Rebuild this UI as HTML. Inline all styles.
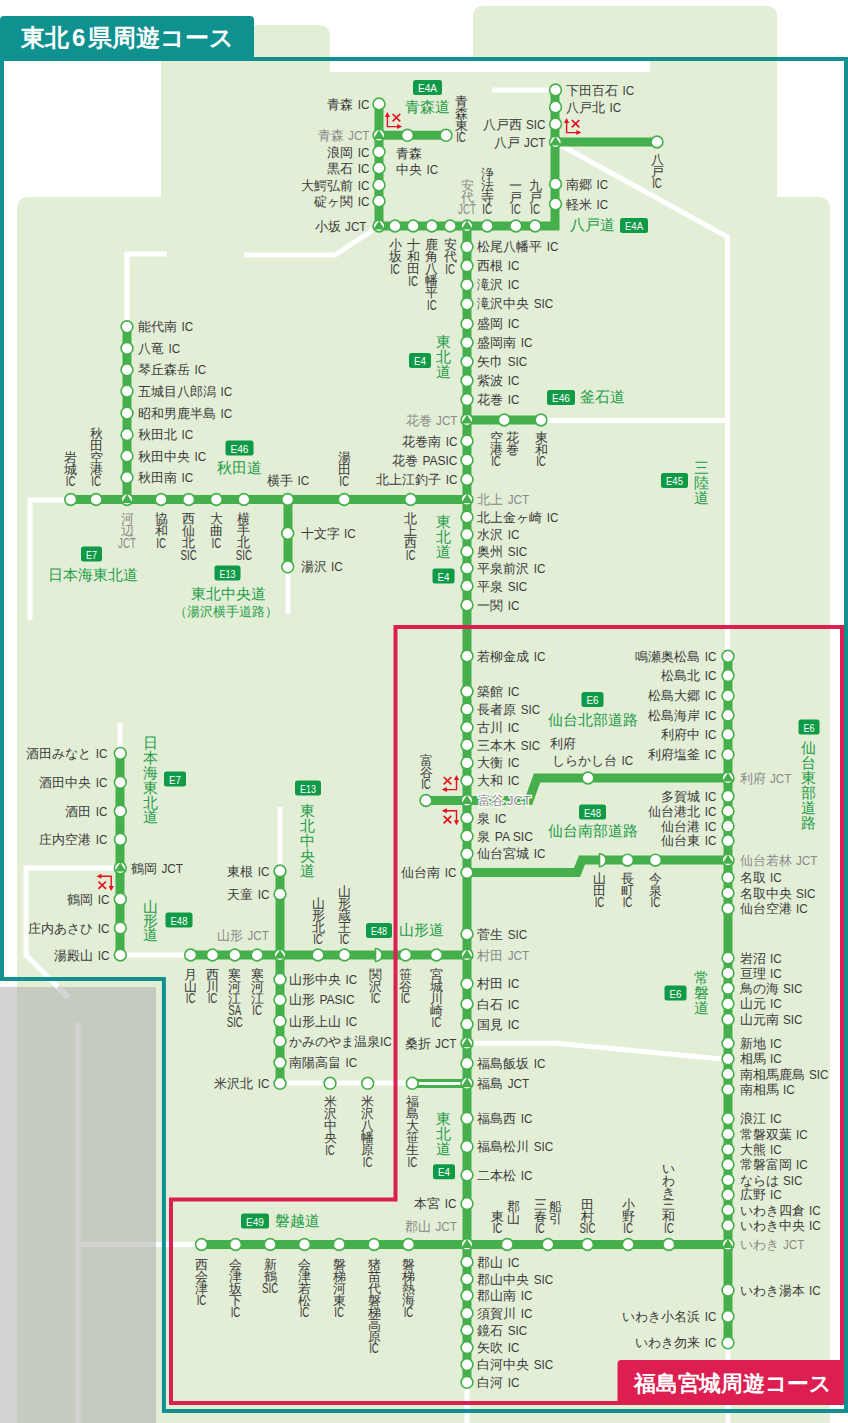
<!DOCTYPE html>
<html><head><meta charset="utf-8"><title>東北6県周遊コース</title>
<style>
html,body{margin:0;padding:0;background:#fff;}
body{width:848px;height:1423px;overflow:hidden;}
svg{display:block;font-family:"Liberation Sans",sans-serif;}
</style></head><body>
<svg width="848" height="1423" viewBox="0 0 848 1423">
<path fill="#e3eed6" d="M161 72 V37 Q161 25 173 25 H318 Q330 25 330 37 V72 Z"/>
<rect x="473" y="6" width="304" height="60" rx="9" fill="#e3eed6"/>
<rect x="161" y="61" width="616" height="160" fill="#e3eed6"/>
<path fill="#e3eed6" d="M17 1423 V209 Q17 197 29 197 H818 Q830 197 830 209 V1423 Z"/>
<rect x="330" y="61" width="320" height="11" fill="#fff"/>
<rect x="0" y="987" width="17" height="436" fill="#d3d3d3"/>
<rect x="17" y="987" width="139" height="436" fill="#c6cbc0"/>
<path d="M492 90 H555" fill="none" stroke="#fff" stroke-width="5" stroke-linejoin="miter"/>
<path d="M555 142 L727.5 237 V656" fill="none" stroke="#fff" stroke-width="5" stroke-linejoin="miter"/>
<path d="M541 420.5 H728" fill="none" stroke="#fff" stroke-width="5" stroke-linejoin="miter"/>
<path d="M379 226 L335 255 H244" fill="none" stroke="#fff" stroke-width="5" stroke-linejoin="miter"/>
<path d="M167 254 H127 V327" fill="none" stroke="#fff" stroke-width="5" stroke-linejoin="miter"/>
<path d="M30 620 V500 H71" fill="none" stroke="#fff" stroke-width="5" stroke-linejoin="miter"/>
<path d="M288 567 V614" fill="none" stroke="#fff" stroke-width="5" stroke-linejoin="miter"/>
<path d="M280 807 V871" fill="none" stroke="#fff" stroke-width="5" stroke-linejoin="miter"/>
<path d="M120 723 V753" fill="none" stroke="#fff" stroke-width="5" stroke-linejoin="miter"/>
<path d="M120 868 H26 V955 L68 997" fill="none" stroke="#fff" stroke-width="5" stroke-linejoin="miter"/>
<path d="M280 1083 H412" fill="none" stroke="#fff" stroke-width="5" stroke-linejoin="miter"/>
<path d="M120 955 H190" fill="none" stroke="#fff" stroke-width="5" stroke-linejoin="miter"/>
<path d="M467 1043.3 H556 L728 1059.5" fill="none" stroke="#fff" stroke-width="5" stroke-linejoin="miter"/>
<path d="M467 1382 V1423" fill="none" stroke="#fff" stroke-width="5" stroke-linejoin="miter"/>
<path d="M728 1343 V1423" fill="none" stroke="#fff" stroke-width="5" stroke-linejoin="miter"/>
<path d="M156 1244.5 H201" fill="none" stroke="#fff" stroke-width="5" stroke-linejoin="miter"/>
<path d="M-5 1083 H0" fill="none" stroke="#fff" stroke-width="5" stroke-linejoin="miter"/>
<path d="M78 1023 V1423" stroke="#d3d3d3" stroke-width="5" fill="none"/>
<path d="M78 1244.5 H156" stroke="#d3d3d3" stroke-width="5" fill="none"/>
<path d="M68 997 L58 987" stroke="#d3d3d3" stroke-width="5" fill="none"/>
<path d="M379 104 V226" fill="none" stroke="#45b04b" stroke-width="9" stroke-linejoin="miter"/>
<path d="M379 135.3 H446" fill="none" stroke="#45b04b" stroke-width="9" stroke-linejoin="miter"/>
<path d="M379 226 H555 V90" fill="none" stroke="#45b04b" stroke-width="9" stroke-linejoin="miter"/>
<path d="M555 142 H657" fill="none" stroke="#45b04b" stroke-width="9" stroke-linejoin="miter"/>
<path d="M467 226 V1382" fill="none" stroke="#45b04b" stroke-width="9" stroke-linejoin="miter"/>
<path d="M467 420 H541" fill="none" stroke="#45b04b" stroke-width="9" stroke-linejoin="miter"/>
<path d="M71 499.5 H467" fill="none" stroke="#45b04b" stroke-width="9" stroke-linejoin="miter"/>
<path d="M127 327 V499.5" fill="none" stroke="#45b04b" stroke-width="9" stroke-linejoin="miter"/>
<path d="M288 499.5 V567" fill="none" stroke="#45b04b" stroke-width="9" stroke-linejoin="miter"/>
<path d="M426 800.5 H529 L537 778 H728" fill="none" stroke="#45b04b" stroke-width="9" stroke-linejoin="miter"/>
<path d="M728 656 V1343" fill="none" stroke="#45b04b" stroke-width="9" stroke-linejoin="miter"/>
<path d="M467 872.5 H577 L582 860 H728" fill="none" stroke="#45b04b" stroke-width="9" stroke-linejoin="miter"/>
<path d="M190 955 H467" fill="none" stroke="#45b04b" stroke-width="9" stroke-linejoin="miter"/>
<path d="M280 871 V1083" fill="none" stroke="#45b04b" stroke-width="9" stroke-linejoin="miter"/>
<path d="M120 753 V955" fill="none" stroke="#45b04b" stroke-width="9" stroke-linejoin="miter"/>
<path d="M201 1244.5 H728" fill="none" stroke="#45b04b" stroke-width="9" stroke-linejoin="miter"/>
<path d="M412 1083.5 H467" stroke="#45b04b" stroke-width="9" fill="none"/>
<path d="M418 1083.5 H461" stroke="#fff" stroke-width="3" fill="none"/>
<circle cx="379" cy="104" r="5.9" fill="#fff" stroke="#45b04b" stroke-width="1.6"/>
<circle cx="379" cy="151.8" r="5.9" fill="#fff" stroke="#45b04b" stroke-width="1.6"/>
<circle cx="379" cy="168" r="5.9" fill="#fff" stroke="#45b04b" stroke-width="1.6"/>
<circle cx="379" cy="185" r="5.9" fill="#fff" stroke="#45b04b" stroke-width="1.6"/>
<circle cx="379" cy="201" r="5.9" fill="#fff" stroke="#45b04b" stroke-width="1.6"/>
<circle cx="379" cy="135.3" r="5.9" fill="#fff"/>
<path d="M379 129.70000000000002 L384.7 138.9 H373.3 Z" fill="#45b04b"/>
<circle cx="379" cy="135.3" r="5.9" fill="none" stroke="#45b04b" stroke-width="1.6"/>
<circle cx="407.5" cy="135.3" r="5.9" fill="#fff" stroke="#45b04b" stroke-width="1.6"/>
<circle cx="446" cy="135.3" r="5.9" fill="#fff" stroke="#45b04b" stroke-width="1.6"/>
<circle cx="379" cy="226" r="5.9" fill="#fff"/>
<path d="M379 220.4 L384.7 229.6 H373.3 Z" fill="#45b04b"/>
<circle cx="379" cy="226" r="5.9" fill="none" stroke="#45b04b" stroke-width="1.6"/>
<text x="327.30" y="104" font-size="13" fill="#3a3a3a" dominant-baseline="central" font-weight="normal" >青森</text>
<text x="357.80" y="104" font-size="13.52" fill="#3a3a3a" dominant-baseline="central" font-weight="normal" textLength="11.70" lengthAdjust="spacingAndGlyphs" >IC</text>
<text x="317.55" y="135.3" font-size="13" fill="#8a8a8a" dominant-baseline="central" font-weight="normal" >青森</text>
<text x="348.05" y="135.3" font-size="13.52" fill="#8a8a8a" dominant-baseline="central" font-weight="normal" textLength="21.45" lengthAdjust="spacingAndGlyphs" >JCT</text>
<text x="327.30" y="152" font-size="13" fill="#3a3a3a" dominant-baseline="central" font-weight="normal" >浪岡</text>
<text x="357.80" y="152" font-size="13.52" fill="#3a3a3a" dominant-baseline="central" font-weight="normal" textLength="11.70" lengthAdjust="spacingAndGlyphs" >IC</text>
<text x="327.30" y="168" font-size="13" fill="#3a3a3a" dominant-baseline="central" font-weight="normal" >黒石</text>
<text x="357.80" y="168" font-size="13.52" fill="#3a3a3a" dominant-baseline="central" font-weight="normal" textLength="11.70" lengthAdjust="spacingAndGlyphs" >IC</text>
<text x="301.30" y="185" font-size="13" fill="#3a3a3a" dominant-baseline="central" font-weight="normal" >大鰐弘前</text>
<text x="357.80" y="185" font-size="13.52" fill="#3a3a3a" dominant-baseline="central" font-weight="normal" textLength="11.70" lengthAdjust="spacingAndGlyphs" >IC</text>
<text x="314.30" y="201" font-size="13" fill="#3a3a3a" dominant-baseline="central" font-weight="normal" >碇ヶ関</text>
<text x="357.80" y="201" font-size="13.52" fill="#3a3a3a" dominant-baseline="central" font-weight="normal" textLength="11.70" lengthAdjust="spacingAndGlyphs" >IC</text>
<text x="314.55" y="226" font-size="13" fill="#3a3a3a" dominant-baseline="central" font-weight="normal" >小坂</text>
<text x="345.05" y="226" font-size="13.52" fill="#3a3a3a" dominant-baseline="central" font-weight="normal" textLength="21.45" lengthAdjust="spacingAndGlyphs" >JCT</text>
<text x="396" y="153" font-size="13" fill="#3a3a3a" text-anchor="start" dominant-baseline="central" font-weight="normal" >青森</text>
<text x="396.00" y="169" font-size="13" fill="#3a3a3a" dominant-baseline="central" font-weight="normal" >中央</text>
<text x="426.50" y="169" font-size="13.52" fill="#3a3a3a" dominant-baseline="central" font-weight="normal" textLength="11.70" lengthAdjust="spacingAndGlyphs" >IC</text>
<text x="461" y="101.0" font-size="13" fill="#3a3a3a" text-anchor="middle" dominant-baseline="central">青</text>
<text x="461" y="113.0" font-size="13" fill="#3a3a3a" text-anchor="middle" dominant-baseline="central">森</text>
<text x="461" y="125.0" font-size="13" fill="#3a3a3a" text-anchor="middle" dominant-baseline="central">東</text>
<text x="461" y="137.0" font-size="14.3" fill="#3a3a3a" text-anchor="middle" dominant-baseline="central" textLength="9.72" lengthAdjust="spacingAndGlyphs">IC</text>
<rect x="413" y="80" width="29" height="15" rx="2.5" fill="#0f9a47"/>
<text x="427.5" y="88.0" font-size="11" fill="#fff" text-anchor="middle" dominant-baseline="central" textLength="19" lengthAdjust="spacingAndGlyphs">E4A</text>
<text x="405" y="107" font-size="14.5" fill="#1f9d49" text-anchor="start" dominant-baseline="central" font-weight="normal" >青森道</text>
<g transform="translate(387.4 126.6) scale(1 1)" fill="#e60f1e" stroke="#e60f1e"><path d="M0 -10 V0 H10.5" fill="none" stroke-width="1.4"/><path d="M0 -14.6 L2.6 -9.6 H-2.6 Z" stroke="none"/><path d="M14.7 0 L9.7 -2.5 V2.5 Z" stroke="none"/><path d="M5.2 -12.6 L12.8 -5.2 M12.8 -12.6 L5.2 -5.2" fill="none" stroke-width="1.7"/></g>
<circle cx="395" cy="226" r="5.9" fill="#fff" stroke="#45b04b" stroke-width="1.6"/>
<circle cx="413.2" cy="226" r="5.9" fill="#fff" stroke="#45b04b" stroke-width="1.6"/>
<circle cx="431.8" cy="226" r="5.9" fill="#fff" stroke="#45b04b" stroke-width="1.6"/>
<circle cx="450.2" cy="226" r="5.9" fill="#fff" stroke="#45b04b" stroke-width="1.6"/>
<circle cx="487.2" cy="226" r="5.9" fill="#fff" stroke="#45b04b" stroke-width="1.6"/>
<circle cx="515.8" cy="226" r="5.9" fill="#fff" stroke="#45b04b" stroke-width="1.6"/>
<circle cx="535.1" cy="226" r="5.9" fill="#fff" stroke="#45b04b" stroke-width="1.6"/>
<circle cx="467" cy="226" r="5.9" fill="#fff"/>
<path d="M467 220.4 L472.7 229.6 H461.3 Z" fill="#45b04b"/>
<circle cx="467" cy="226" r="5.9" fill="none" stroke="#45b04b" stroke-width="1.6"/>
<text x="395" y="244.5" font-size="13" fill="#3a3a3a" text-anchor="middle" dominant-baseline="central">小</text>
<text x="395" y="256.5" font-size="13" fill="#3a3a3a" text-anchor="middle" dominant-baseline="central">坂</text>
<text x="395" y="268.5" font-size="14.3" fill="#3a3a3a" text-anchor="middle" dominant-baseline="central" textLength="9.72" lengthAdjust="spacingAndGlyphs">IC</text>
<text x="413.2" y="244.5" font-size="13" fill="#3a3a3a" text-anchor="middle" dominant-baseline="central">十</text>
<text x="413.2" y="256.5" font-size="13" fill="#3a3a3a" text-anchor="middle" dominant-baseline="central">和</text>
<text x="413.2" y="268.5" font-size="13" fill="#3a3a3a" text-anchor="middle" dominant-baseline="central">田</text>
<text x="413.2" y="280.5" font-size="14.3" fill="#3a3a3a" text-anchor="middle" dominant-baseline="central" textLength="9.72" lengthAdjust="spacingAndGlyphs">IC</text>
<text x="431.8" y="244.5" font-size="13" fill="#3a3a3a" text-anchor="middle" dominant-baseline="central">鹿</text>
<text x="431.8" y="256.5" font-size="13" fill="#3a3a3a" text-anchor="middle" dominant-baseline="central">角</text>
<text x="431.8" y="268.5" font-size="13" fill="#3a3a3a" text-anchor="middle" dominant-baseline="central">八</text>
<text x="431.8" y="280.5" font-size="13" fill="#3a3a3a" text-anchor="middle" dominant-baseline="central">幡</text>
<text x="431.8" y="292.5" font-size="13" fill="#3a3a3a" text-anchor="middle" dominant-baseline="central">平</text>
<text x="431.8" y="304.5" font-size="14.3" fill="#3a3a3a" text-anchor="middle" dominant-baseline="central" textLength="9.72" lengthAdjust="spacingAndGlyphs">IC</text>
<text x="450.2" y="244.5" font-size="13" fill="#3a3a3a" text-anchor="middle" dominant-baseline="central">安</text>
<text x="450.2" y="256.5" font-size="13" fill="#3a3a3a" text-anchor="middle" dominant-baseline="central">代</text>
<text x="450.2" y="268.5" font-size="14.3" fill="#3a3a3a" text-anchor="middle" dominant-baseline="central" textLength="9.72" lengthAdjust="spacingAndGlyphs">IC</text>
<text x="467" y="185.0" font-size="13" fill="#8a8a8a" text-anchor="middle" dominant-baseline="central">安</text>
<text x="467" y="197.0" font-size="13" fill="#8a8a8a" text-anchor="middle" dominant-baseline="central">代</text>
<text x="467" y="209.0" font-size="14.3" fill="#8a8a8a" text-anchor="middle" dominant-baseline="central" textLength="17.82" lengthAdjust="spacingAndGlyphs">JCT</text>
<text x="487.2" y="173.0" font-size="13" fill="#3a3a3a" text-anchor="middle" dominant-baseline="central">浄</text>
<text x="487.2" y="185.0" font-size="13" fill="#3a3a3a" text-anchor="middle" dominant-baseline="central">法</text>
<text x="487.2" y="197.0" font-size="13" fill="#3a3a3a" text-anchor="middle" dominant-baseline="central">寺</text>
<text x="487.2" y="209.0" font-size="14.3" fill="#3a3a3a" text-anchor="middle" dominant-baseline="central" textLength="9.72" lengthAdjust="spacingAndGlyphs">IC</text>
<text x="515.8" y="185.0" font-size="13" fill="#3a3a3a" text-anchor="middle" dominant-baseline="central">一</text>
<text x="515.8" y="197.0" font-size="13" fill="#3a3a3a" text-anchor="middle" dominant-baseline="central">戸</text>
<text x="515.8" y="209.0" font-size="14.3" fill="#3a3a3a" text-anchor="middle" dominant-baseline="central" textLength="9.72" lengthAdjust="spacingAndGlyphs">IC</text>
<text x="535.1" y="185.0" font-size="13" fill="#3a3a3a" text-anchor="middle" dominant-baseline="central">九</text>
<text x="535.1" y="197.0" font-size="13" fill="#3a3a3a" text-anchor="middle" dominant-baseline="central">戸</text>
<text x="535.1" y="209.0" font-size="14.3" fill="#3a3a3a" text-anchor="middle" dominant-baseline="central" textLength="9.72" lengthAdjust="spacingAndGlyphs">IC</text>
<circle cx="555.5" cy="90" r="5.9" fill="#fff" stroke="#45b04b" stroke-width="1.6"/>
<circle cx="555.5" cy="107" r="5.9" fill="#fff" stroke="#45b04b" stroke-width="1.6"/>
<circle cx="555.5" cy="124" r="5.9" fill="#fff" stroke="#45b04b" stroke-width="1.6"/>
<circle cx="555.5" cy="184" r="5.9" fill="#fff" stroke="#45b04b" stroke-width="1.6"/>
<circle cx="555.5" cy="204" r="5.9" fill="#fff" stroke="#45b04b" stroke-width="1.6"/>
<circle cx="555.5" cy="142" r="5.9" fill="#fff"/>
<path d="M555.5 136.4 L561.2 145.6 H549.8 Z" fill="#45b04b"/>
<circle cx="555.5" cy="142" r="5.9" fill="none" stroke="#45b04b" stroke-width="1.6"/>
<circle cx="657" cy="142" r="5.9" fill="#fff" stroke="#45b04b" stroke-width="1.6"/>
<text x="566.00" y="90" font-size="13" fill="#3a3a3a" dominant-baseline="central" font-weight="normal" >下田百石</text>
<text x="622.50" y="90" font-size="13.52" fill="#3a3a3a" dominant-baseline="central" font-weight="normal" textLength="11.70" lengthAdjust="spacingAndGlyphs" >IC</text>
<text x="566.00" y="107" font-size="13" fill="#3a3a3a" dominant-baseline="central" font-weight="normal" >八戸北</text>
<text x="609.50" y="107" font-size="13.52" fill="#3a3a3a" dominant-baseline="central" font-weight="normal" textLength="11.70" lengthAdjust="spacingAndGlyphs" >IC</text>
<text x="482.50" y="124" font-size="13" fill="#3a3a3a" dominant-baseline="central" font-weight="normal" >八戸西</text>
<text x="526.00" y="124" font-size="13.52" fill="#3a3a3a" dominant-baseline="central" font-weight="normal" textLength="19.50" lengthAdjust="spacingAndGlyphs" >SIC</text>
<text x="493.55" y="142" font-size="13" fill="#3a3a3a" dominant-baseline="central" font-weight="normal" >八戸</text>
<text x="524.05" y="142" font-size="13.52" fill="#3a3a3a" dominant-baseline="central" font-weight="normal" textLength="21.45" lengthAdjust="spacingAndGlyphs" >JCT</text>
<text x="566.00" y="184" font-size="13" fill="#3a3a3a" dominant-baseline="central" font-weight="normal" >南郷</text>
<text x="596.50" y="184" font-size="13.52" fill="#3a3a3a" dominant-baseline="central" font-weight="normal" textLength="11.70" lengthAdjust="spacingAndGlyphs" >IC</text>
<text x="566.00" y="204" font-size="13" fill="#3a3a3a" dominant-baseline="central" font-weight="normal" >軽米</text>
<text x="596.50" y="204" font-size="13.52" fill="#3a3a3a" dominant-baseline="central" font-weight="normal" textLength="11.70" lengthAdjust="spacingAndGlyphs" >IC</text>
<text x="657" y="159.0" font-size="13" fill="#3a3a3a" text-anchor="middle" dominant-baseline="central">八</text>
<text x="657" y="171.0" font-size="13" fill="#3a3a3a" text-anchor="middle" dominant-baseline="central">戸</text>
<text x="657" y="183.0" font-size="14.3" fill="#3a3a3a" text-anchor="middle" dominant-baseline="central" textLength="9.72" lengthAdjust="spacingAndGlyphs">IC</text>
<text x="570" y="225" font-size="14.5" fill="#1f9d49" text-anchor="start" dominant-baseline="central" font-weight="normal" >八戸道</text>
<rect x="620" y="218" width="28" height="15" rx="2.5" fill="#0f9a47"/>
<text x="634.0" y="226.0" font-size="11" fill="#fff" text-anchor="middle" dominant-baseline="central" textLength="18" lengthAdjust="spacingAndGlyphs">E4A</text>
<g transform="translate(566.6 132.6) scale(1 1)" fill="#e60f1e" stroke="#e60f1e"><path d="M0 -10 V0 H10.5" fill="none" stroke-width="1.4"/><path d="M0 -14.6 L2.6 -9.6 H-2.6 Z" stroke="none"/><path d="M14.7 0 L9.7 -2.5 V2.5 Z" stroke="none"/><path d="M5.2 -12.6 L12.8 -5.2 M12.8 -12.6 L5.2 -5.2" fill="none" stroke-width="1.7"/></g>
<circle cx="467" cy="246.8" r="5.9" fill="#fff" stroke="#45b04b" stroke-width="1.6"/>
<text x="477.20" y="246.8" font-size="13" fill="#3a3a3a" dominant-baseline="central" font-weight="normal" >松尾八幡平</text>
<text x="546.70" y="246.8" font-size="13.52" fill="#3a3a3a" dominant-baseline="central" font-weight="normal" textLength="11.70" lengthAdjust="spacingAndGlyphs" >IC</text>
<circle cx="467" cy="265.8" r="5.9" fill="#fff" stroke="#45b04b" stroke-width="1.6"/>
<text x="477.20" y="265.8" font-size="13" fill="#3a3a3a" dominant-baseline="central" font-weight="normal" >西根</text>
<text x="507.70" y="265.8" font-size="13.52" fill="#3a3a3a" dominant-baseline="central" font-weight="normal" textLength="11.70" lengthAdjust="spacingAndGlyphs" >IC</text>
<circle cx="467" cy="284.8" r="5.9" fill="#fff" stroke="#45b04b" stroke-width="1.6"/>
<text x="477.20" y="284.8" font-size="13" fill="#3a3a3a" dominant-baseline="central" font-weight="normal" >滝沢</text>
<text x="507.70" y="284.8" font-size="13.52" fill="#3a3a3a" dominant-baseline="central" font-weight="normal" textLength="11.70" lengthAdjust="spacingAndGlyphs" >IC</text>
<circle cx="467" cy="303.8" r="5.9" fill="#fff" stroke="#45b04b" stroke-width="1.6"/>
<text x="477.20" y="303.8" font-size="13" fill="#3a3a3a" dominant-baseline="central" font-weight="normal" >滝沢中央</text>
<text x="533.70" y="303.8" font-size="13.52" fill="#3a3a3a" dominant-baseline="central" font-weight="normal" textLength="19.50" lengthAdjust="spacingAndGlyphs" >SIC</text>
<circle cx="467" cy="323.8" r="5.9" fill="#fff" stroke="#45b04b" stroke-width="1.6"/>
<text x="477.20" y="323.8" font-size="13" fill="#3a3a3a" dominant-baseline="central" font-weight="normal" >盛岡</text>
<text x="507.70" y="323.8" font-size="13.52" fill="#3a3a3a" dominant-baseline="central" font-weight="normal" textLength="11.70" lengthAdjust="spacingAndGlyphs" >IC</text>
<circle cx="467" cy="342.6" r="5.9" fill="#fff" stroke="#45b04b" stroke-width="1.6"/>
<text x="477.20" y="342.6" font-size="13" fill="#3a3a3a" dominant-baseline="central" font-weight="normal" >盛岡南</text>
<text x="520.70" y="342.6" font-size="13.52" fill="#3a3a3a" dominant-baseline="central" font-weight="normal" textLength="11.70" lengthAdjust="spacingAndGlyphs" >IC</text>
<circle cx="467" cy="361.6" r="5.9" fill="#fff" stroke="#45b04b" stroke-width="1.6"/>
<text x="477.20" y="361.6" font-size="13" fill="#3a3a3a" dominant-baseline="central" font-weight="normal" >矢巾</text>
<text x="507.70" y="361.6" font-size="13.52" fill="#3a3a3a" dominant-baseline="central" font-weight="normal" textLength="19.50" lengthAdjust="spacingAndGlyphs" >SIC</text>
<circle cx="467" cy="380.6" r="5.9" fill="#fff" stroke="#45b04b" stroke-width="1.6"/>
<text x="477.20" y="380.6" font-size="13" fill="#3a3a3a" dominant-baseline="central" font-weight="normal" >紫波</text>
<text x="507.70" y="380.6" font-size="13.52" fill="#3a3a3a" dominant-baseline="central" font-weight="normal" textLength="11.70" lengthAdjust="spacingAndGlyphs" >IC</text>
<circle cx="467" cy="399.6" r="5.9" fill="#fff" stroke="#45b04b" stroke-width="1.6"/>
<text x="477.20" y="399.6" font-size="13" fill="#3a3a3a" dominant-baseline="central" font-weight="normal" >花巻</text>
<text x="507.70" y="399.6" font-size="13.52" fill="#3a3a3a" dominant-baseline="central" font-weight="normal" textLength="11.70" lengthAdjust="spacingAndGlyphs" >IC</text>
<circle cx="467" cy="420" r="5.9" fill="#fff"/>
<path d="M467 414.4 L472.7 423.6 H461.3 Z" fill="#45b04b"/>
<circle cx="467" cy="420" r="5.9" fill="none" stroke="#45b04b" stroke-width="1.6"/>
<text x="405.55" y="420" font-size="13" fill="#8a8a8a" dominant-baseline="central" font-weight="normal" >花巻</text>
<text x="436.05" y="420" font-size="13.52" fill="#8a8a8a" dominant-baseline="central" font-weight="normal" textLength="21.45" lengthAdjust="spacingAndGlyphs" >JCT</text>
<rect x="409" y="353" width="22" height="15" rx="2.5" fill="#0f9a47"/>
<text x="420.0" y="361.0" font-size="11" fill="#fff" text-anchor="middle" dominant-baseline="central" textLength="12" lengthAdjust="spacingAndGlyphs">E4</text>
<text x="443" y="341.5" font-size="14.5" fill="#1f9d49" text-anchor="middle" dominant-baseline="central">東</text>
<text x="443" y="356.5" font-size="14.5" fill="#1f9d49" text-anchor="middle" dominant-baseline="central">北</text>
<text x="443" y="371.5" font-size="14.5" fill="#1f9d49" text-anchor="middle" dominant-baseline="central">道</text>
<circle cx="504.2" cy="420" r="5.9" fill="#fff" stroke="#45b04b" stroke-width="1.6"/>
<circle cx="541" cy="420" r="5.9" fill="#fff" stroke="#45b04b" stroke-width="1.6"/>
<text x="512.5" y="437.0" font-size="13" fill="#3a3a3a" text-anchor="middle" dominant-baseline="central">花</text>
<text x="512.5" y="449.0" font-size="13" fill="#3a3a3a" text-anchor="middle" dominant-baseline="central">巻</text>
<text x="496" y="437.0" font-size="13" fill="#3a3a3a" text-anchor="middle" dominant-baseline="central">空</text>
<text x="496" y="449.0" font-size="13" fill="#3a3a3a" text-anchor="middle" dominant-baseline="central">港</text>
<text x="496" y="461.0" font-size="14.3" fill="#3a3a3a" text-anchor="middle" dominant-baseline="central" textLength="9.72" lengthAdjust="spacingAndGlyphs">IC</text>
<text x="541" y="437.0" font-size="13" fill="#3a3a3a" text-anchor="middle" dominant-baseline="central">東</text>
<text x="541" y="449.0" font-size="13" fill="#3a3a3a" text-anchor="middle" dominant-baseline="central">和</text>
<text x="541" y="461.0" font-size="14.3" fill="#3a3a3a" text-anchor="middle" dominant-baseline="central" textLength="9.72" lengthAdjust="spacingAndGlyphs">IC</text>
<rect x="661" y="473" width="27" height="15" rx="2.5" fill="#0f9a47"/>
<text x="674.5" y="481.0" font-size="11" fill="#fff" text-anchor="middle" dominant-baseline="central" textLength="17" lengthAdjust="spacingAndGlyphs">E45</text>
<text x="701.5" y="467.5" font-size="14.5" fill="#1f9d49" text-anchor="middle" dominant-baseline="central">三</text>
<text x="701.5" y="482.5" font-size="14.5" fill="#1f9d49" text-anchor="middle" dominant-baseline="central">陸</text>
<text x="701.5" y="497.5" font-size="14.5" fill="#1f9d49" text-anchor="middle" dominant-baseline="central">道</text>
<rect x="547" y="390" width="28" height="15" rx="2.5" fill="#0f9a47"/>
<text x="561.0" y="398.0" font-size="11" fill="#fff" text-anchor="middle" dominant-baseline="central" textLength="18" lengthAdjust="spacingAndGlyphs">E46</text>
<text x="580" y="397" font-size="14.5" fill="#1f9d49" text-anchor="start" dominant-baseline="central" font-weight="normal" >釜石道</text>
<circle cx="467" cy="441" r="5.9" fill="#fff" stroke="#45b04b" stroke-width="1.6"/>
<text x="402.30" y="441" font-size="13" fill="#3a3a3a" dominant-baseline="central" font-weight="normal" >花巻南</text>
<text x="445.80" y="441" font-size="13.52" fill="#3a3a3a" dominant-baseline="central" font-weight="normal" textLength="11.70" lengthAdjust="spacingAndGlyphs" >IC</text>
<circle cx="467" cy="460.2" r="5.9" fill="#fff" stroke="#45b04b" stroke-width="1.6"/>
<text x="391.89" y="460.2" font-size="13" fill="#3a3a3a" dominant-baseline="central" font-weight="normal" >花巻</text>
<text x="422.39" y="460.2" font-size="13.52" fill="#3a3a3a" dominant-baseline="central" font-weight="normal" textLength="35.11" lengthAdjust="spacingAndGlyphs" >PASIC</text>
<circle cx="467" cy="479.4" r="5.9" fill="#fff" stroke="#45b04b" stroke-width="1.6"/>
<text x="376.30" y="479.4" font-size="13" fill="#3a3a3a" dominant-baseline="central" font-weight="normal" >北上江釣子</text>
<text x="445.80" y="479.4" font-size="13.52" fill="#3a3a3a" dominant-baseline="central" font-weight="normal" textLength="11.70" lengthAdjust="spacingAndGlyphs" >IC</text>
<circle cx="467" cy="499.5" r="5.9" fill="#fff"/>
<path d="M467 493.9 L472.7 503.1 H461.3 Z" fill="#45b04b"/>
<circle cx="467" cy="499.5" r="5.9" fill="none" stroke="#45b04b" stroke-width="1.6"/>
<text x="477.20" y="499.5" font-size="13" fill="#8a8a8a" dominant-baseline="central" font-weight="normal" >北上</text>
<text x="507.70" y="499.5" font-size="13.52" fill="#8a8a8a" dominant-baseline="central" font-weight="normal" textLength="21.45" lengthAdjust="spacingAndGlyphs" >JCT</text>
<circle cx="467" cy="517" r="5.9" fill="#fff" stroke="#45b04b" stroke-width="1.6"/>
<text x="477.20" y="517" font-size="13" fill="#3a3a3a" dominant-baseline="central" font-weight="normal" >北上金ヶ崎</text>
<text x="546.70" y="517" font-size="13.52" fill="#3a3a3a" dominant-baseline="central" font-weight="normal" textLength="11.70" lengthAdjust="spacingAndGlyphs" >IC</text>
<circle cx="467" cy="534.4" r="5.9" fill="#fff" stroke="#45b04b" stroke-width="1.6"/>
<text x="477.20" y="534.4" font-size="13" fill="#3a3a3a" dominant-baseline="central" font-weight="normal" >水沢</text>
<text x="507.70" y="534.4" font-size="13.52" fill="#3a3a3a" dominant-baseline="central" font-weight="normal" textLength="11.70" lengthAdjust="spacingAndGlyphs" >IC</text>
<circle cx="467" cy="551.4" r="5.9" fill="#fff" stroke="#45b04b" stroke-width="1.6"/>
<text x="477.20" y="551.4" font-size="13" fill="#3a3a3a" dominant-baseline="central" font-weight="normal" >奥州</text>
<text x="507.70" y="551.4" font-size="13.52" fill="#3a3a3a" dominant-baseline="central" font-weight="normal" textLength="19.50" lengthAdjust="spacingAndGlyphs" >SIC</text>
<circle cx="467" cy="568.2" r="5.9" fill="#fff" stroke="#45b04b" stroke-width="1.6"/>
<text x="477.20" y="568.2" font-size="13" fill="#3a3a3a" dominant-baseline="central" font-weight="normal" >平泉前沢</text>
<text x="533.70" y="568.2" font-size="13.52" fill="#3a3a3a" dominant-baseline="central" font-weight="normal" textLength="11.70" lengthAdjust="spacingAndGlyphs" >IC</text>
<circle cx="467" cy="586" r="5.9" fill="#fff" stroke="#45b04b" stroke-width="1.6"/>
<text x="477.20" y="586" font-size="13" fill="#3a3a3a" dominant-baseline="central" font-weight="normal" >平泉</text>
<text x="507.70" y="586" font-size="13.52" fill="#3a3a3a" dominant-baseline="central" font-weight="normal" textLength="19.50" lengthAdjust="spacingAndGlyphs" >SIC</text>
<circle cx="467" cy="605" r="5.9" fill="#fff" stroke="#45b04b" stroke-width="1.6"/>
<text x="477.20" y="605" font-size="13" fill="#3a3a3a" dominant-baseline="central" font-weight="normal" >一関</text>
<text x="507.70" y="605" font-size="13.52" fill="#3a3a3a" dominant-baseline="central" font-weight="normal" textLength="11.70" lengthAdjust="spacingAndGlyphs" >IC</text>
<text x="443.5" y="521.5" font-size="14.5" fill="#1f9d49" text-anchor="middle" dominant-baseline="central">東</text>
<text x="443.5" y="536.5" font-size="14.5" fill="#1f9d49" text-anchor="middle" dominant-baseline="central">北</text>
<text x="443.5" y="551.5" font-size="14.5" fill="#1f9d49" text-anchor="middle" dominant-baseline="central">道</text>
<rect x="432.5" y="568.5" width="22" height="15" rx="2.5" fill="#0f9a47"/>
<text x="443.5" y="576.5" font-size="11" fill="#fff" text-anchor="middle" dominant-baseline="central" textLength="12" lengthAdjust="spacingAndGlyphs">E4</text>
<circle cx="127" cy="326.8" r="5.9" fill="#fff" stroke="#45b04b" stroke-width="1.6"/>
<text x="138.00" y="326.8" font-size="13" fill="#3a3a3a" dominant-baseline="central" font-weight="normal" >能代南</text>
<text x="181.50" y="326.8" font-size="13.52" fill="#3a3a3a" dominant-baseline="central" font-weight="normal" textLength="11.70" lengthAdjust="spacingAndGlyphs" >IC</text>
<circle cx="127" cy="348.3" r="5.9" fill="#fff" stroke="#45b04b" stroke-width="1.6"/>
<text x="138.00" y="348.3" font-size="13" fill="#3a3a3a" dominant-baseline="central" font-weight="normal" >八竜</text>
<text x="168.50" y="348.3" font-size="13.52" fill="#3a3a3a" dominant-baseline="central" font-weight="normal" textLength="11.70" lengthAdjust="spacingAndGlyphs" >IC</text>
<circle cx="127" cy="369.8" r="5.9" fill="#fff" stroke="#45b04b" stroke-width="1.6"/>
<text x="138.00" y="369.8" font-size="13" fill="#3a3a3a" dominant-baseline="central" font-weight="normal" >琴丘森岳</text>
<text x="194.50" y="369.8" font-size="13.52" fill="#3a3a3a" dominant-baseline="central" font-weight="normal" textLength="11.70" lengthAdjust="spacingAndGlyphs" >IC</text>
<circle cx="127" cy="391.2" r="5.9" fill="#fff" stroke="#45b04b" stroke-width="1.6"/>
<text x="138.00" y="391.2" font-size="13" fill="#3a3a3a" dominant-baseline="central" font-weight="normal" >五城目八郎潟</text>
<text x="220.50" y="391.2" font-size="13.52" fill="#3a3a3a" dominant-baseline="central" font-weight="normal" textLength="11.70" lengthAdjust="spacingAndGlyphs" >IC</text>
<circle cx="127" cy="413.2" r="5.9" fill="#fff" stroke="#45b04b" stroke-width="1.6"/>
<text x="138.00" y="413.2" font-size="13" fill="#3a3a3a" dominant-baseline="central" font-weight="normal" >昭和男鹿半島</text>
<text x="220.50" y="413.2" font-size="13.52" fill="#3a3a3a" dominant-baseline="central" font-weight="normal" textLength="11.70" lengthAdjust="spacingAndGlyphs" >IC</text>
<circle cx="127" cy="434.7" r="5.9" fill="#fff" stroke="#45b04b" stroke-width="1.6"/>
<text x="138.00" y="434.7" font-size="13" fill="#3a3a3a" dominant-baseline="central" font-weight="normal" >秋田北</text>
<text x="181.50" y="434.7" font-size="13.52" fill="#3a3a3a" dominant-baseline="central" font-weight="normal" textLength="11.70" lengthAdjust="spacingAndGlyphs" >IC</text>
<circle cx="127" cy="456" r="5.9" fill="#fff" stroke="#45b04b" stroke-width="1.6"/>
<text x="138.00" y="456" font-size="13" fill="#3a3a3a" dominant-baseline="central" font-weight="normal" >秋田中央</text>
<text x="194.50" y="456" font-size="13.52" fill="#3a3a3a" dominant-baseline="central" font-weight="normal" textLength="11.70" lengthAdjust="spacingAndGlyphs" >IC</text>
<circle cx="127" cy="477.5" r="5.9" fill="#fff" stroke="#45b04b" stroke-width="1.6"/>
<text x="138.00" y="477.5" font-size="13" fill="#3a3a3a" dominant-baseline="central" font-weight="normal" >秋田南</text>
<text x="181.50" y="477.5" font-size="13.52" fill="#3a3a3a" dominant-baseline="central" font-weight="normal" textLength="11.70" lengthAdjust="spacingAndGlyphs" >IC</text>
<circle cx="127" cy="499.5" r="5.9" fill="#fff"/>
<path d="M127 493.9 L132.7 503.1 H121.3 Z" fill="#45b04b"/>
<circle cx="127" cy="499.5" r="5.9" fill="none" stroke="#45b04b" stroke-width="1.6"/>
<rect x="225.5" y="440.5" width="28" height="15" rx="2.5" fill="#0f9a47"/>
<text x="239.5" y="448.5" font-size="11" fill="#fff" text-anchor="middle" dominant-baseline="central" textLength="18" lengthAdjust="spacingAndGlyphs">E46</text>
<text x="216.5" y="468" font-size="14.5" fill="#1f9d49" text-anchor="start" dominant-baseline="central" font-weight="normal" >秋田道</text>
<circle cx="70.7" cy="499.5" r="5.9" fill="#fff" stroke="#45b04b" stroke-width="1.6"/>
<circle cx="96.1" cy="499.5" r="5.9" fill="#fff" stroke="#45b04b" stroke-width="1.6"/>
<circle cx="161.1" cy="499.5" r="5.9" fill="#fff" stroke="#45b04b" stroke-width="1.6"/>
<circle cx="188.7" cy="499.5" r="5.9" fill="#fff" stroke="#45b04b" stroke-width="1.6"/>
<circle cx="216.3" cy="499.5" r="5.9" fill="#fff" stroke="#45b04b" stroke-width="1.6"/>
<circle cx="243.9" cy="499.5" r="5.9" fill="#fff" stroke="#45b04b" stroke-width="1.6"/>
<circle cx="287.7" cy="499.5" r="5.9" fill="#fff" stroke="#45b04b" stroke-width="1.6"/>
<circle cx="344.2" cy="499.5" r="5.9" fill="#fff" stroke="#45b04b" stroke-width="1.6"/>
<circle cx="410.6" cy="499.5" r="5.9" fill="#fff" stroke="#45b04b" stroke-width="1.6"/>
<circle cx="287.7" cy="533.3" r="5.9" fill="#fff" stroke="#45b04b" stroke-width="1.6"/>
<circle cx="287.7" cy="566.8" r="5.9" fill="#fff" stroke="#45b04b" stroke-width="1.6"/>
<text x="70.7" y="457.0" font-size="13" fill="#3a3a3a" text-anchor="middle" dominant-baseline="central">岩</text>
<text x="70.7" y="469.0" font-size="13" fill="#3a3a3a" text-anchor="middle" dominant-baseline="central">城</text>
<text x="70.7" y="481.0" font-size="14.3" fill="#3a3a3a" text-anchor="middle" dominant-baseline="central" textLength="9.72" lengthAdjust="spacingAndGlyphs">IC</text>
<text x="96.1" y="433.0" font-size="13" fill="#3a3a3a" text-anchor="middle" dominant-baseline="central">秋</text>
<text x="96.1" y="445.0" font-size="13" fill="#3a3a3a" text-anchor="middle" dominant-baseline="central">田</text>
<text x="96.1" y="457.0" font-size="13" fill="#3a3a3a" text-anchor="middle" dominant-baseline="central">空</text>
<text x="96.1" y="469.0" font-size="13" fill="#3a3a3a" text-anchor="middle" dominant-baseline="central">港</text>
<text x="96.1" y="481.0" font-size="14.3" fill="#3a3a3a" text-anchor="middle" dominant-baseline="central" textLength="9.72" lengthAdjust="spacingAndGlyphs">IC</text>
<text x="127" y="518.5" font-size="13" fill="#8a8a8a" text-anchor="middle" dominant-baseline="central">河</text>
<text x="127" y="530.5" font-size="13" fill="#8a8a8a" text-anchor="middle" dominant-baseline="central">辺</text>
<text x="127" y="542.5" font-size="14.3" fill="#8a8a8a" text-anchor="middle" dominant-baseline="central" textLength="17.82" lengthAdjust="spacingAndGlyphs">JCT</text>
<text x="161.1" y="518.5" font-size="13" fill="#3a3a3a" text-anchor="middle" dominant-baseline="central">協</text>
<text x="161.1" y="530.5" font-size="13" fill="#3a3a3a" text-anchor="middle" dominant-baseline="central">和</text>
<text x="161.1" y="542.5" font-size="14.3" fill="#3a3a3a" text-anchor="middle" dominant-baseline="central" textLength="9.72" lengthAdjust="spacingAndGlyphs">IC</text>
<text x="188.7" y="518.5" font-size="13" fill="#3a3a3a" text-anchor="middle" dominant-baseline="central">西</text>
<text x="188.7" y="530.5" font-size="13" fill="#3a3a3a" text-anchor="middle" dominant-baseline="central">仙</text>
<text x="188.7" y="542.5" font-size="13" fill="#3a3a3a" text-anchor="middle" dominant-baseline="central">北</text>
<text x="188.7" y="554.5" font-size="14.3" fill="#3a3a3a" text-anchor="middle" dominant-baseline="central" textLength="16.21" lengthAdjust="spacingAndGlyphs">SIC</text>
<text x="216.3" y="518.5" font-size="13" fill="#3a3a3a" text-anchor="middle" dominant-baseline="central">大</text>
<text x="216.3" y="530.5" font-size="13" fill="#3a3a3a" text-anchor="middle" dominant-baseline="central">曲</text>
<text x="216.3" y="542.5" font-size="14.3" fill="#3a3a3a" text-anchor="middle" dominant-baseline="central" textLength="9.72" lengthAdjust="spacingAndGlyphs">IC</text>
<text x="243.9" y="518.5" font-size="13" fill="#3a3a3a" text-anchor="middle" dominant-baseline="central">横</text>
<text x="243.9" y="530.5" font-size="13" fill="#3a3a3a" text-anchor="middle" dominant-baseline="central">手</text>
<text x="243.9" y="542.5" font-size="13" fill="#3a3a3a" text-anchor="middle" dominant-baseline="central">北</text>
<text x="243.9" y="554.5" font-size="14.3" fill="#3a3a3a" text-anchor="middle" dominant-baseline="central" textLength="16.21" lengthAdjust="spacingAndGlyphs">SIC</text>
<text x="267.00" y="480" font-size="13" fill="#3a3a3a" dominant-baseline="central" font-weight="normal" >横手</text>
<text x="297.50" y="480" font-size="13.52" fill="#3a3a3a" dominant-baseline="central" font-weight="normal" textLength="11.70" lengthAdjust="spacingAndGlyphs" >IC</text>
<text x="344.2" y="457.0" font-size="13" fill="#3a3a3a" text-anchor="middle" dominant-baseline="central">湯</text>
<text x="344.2" y="469.0" font-size="13" fill="#3a3a3a" text-anchor="middle" dominant-baseline="central">田</text>
<text x="344.2" y="481.0" font-size="14.3" fill="#3a3a3a" text-anchor="middle" dominant-baseline="central" textLength="9.72" lengthAdjust="spacingAndGlyphs">IC</text>
<text x="410.6" y="518.5" font-size="13" fill="#3a3a3a" text-anchor="middle" dominant-baseline="central">北</text>
<text x="410.6" y="530.5" font-size="13" fill="#3a3a3a" text-anchor="middle" dominant-baseline="central">上</text>
<text x="410.6" y="542.5" font-size="13" fill="#3a3a3a" text-anchor="middle" dominant-baseline="central">西</text>
<text x="410.6" y="554.5" font-size="14.3" fill="#3a3a3a" text-anchor="middle" dominant-baseline="central" textLength="9.72" lengthAdjust="spacingAndGlyphs">IC</text>
<text x="300.50" y="533.3" font-size="13" fill="#3a3a3a" dominant-baseline="central" font-weight="normal" >十文字</text>
<text x="344.00" y="533.3" font-size="13.52" fill="#3a3a3a" dominant-baseline="central" font-weight="normal" textLength="11.70" lengthAdjust="spacingAndGlyphs" >IC</text>
<text x="300.50" y="566.8" font-size="13" fill="#3a3a3a" dominant-baseline="central" font-weight="normal" >湯沢</text>
<text x="331.00" y="566.8" font-size="13.52" fill="#3a3a3a" dominant-baseline="central" font-weight="normal" textLength="11.70" lengthAdjust="spacingAndGlyphs" >IC</text>
<rect x="81" y="546.5" width="21" height="15" rx="2.5" fill="#0f9a47"/>
<text x="91.5" y="554.5" font-size="11" fill="#fff" text-anchor="middle" dominant-baseline="central" textLength="11" lengthAdjust="spacingAndGlyphs">E7</text>
<text x="47.5" y="574.5" font-size="14.5" fill="#1f9d49" text-anchor="start" dominant-baseline="central" font-weight="normal" >日本海東北道</text>
<rect x="214.5" y="565.5" width="26" height="15" rx="2.5" fill="#0f9a47"/>
<text x="227.5" y="573.5" font-size="11" fill="#fff" text-anchor="middle" dominant-baseline="central" textLength="16" lengthAdjust="spacingAndGlyphs">E13</text>
<text x="190.5" y="593.5" font-size="14.5" fill="#1f9d49" text-anchor="start" dominant-baseline="central" font-weight="normal" >東北中央道</text>
<text x="226" y="611" font-size="13" fill="#1f9d49" text-anchor="middle" dominant-baseline="central" font-weight="normal" >（湯沢横手道路）</text>
<circle cx="467" cy="656" r="5.9" fill="#fff" stroke="#45b04b" stroke-width="1.6"/>
<text x="477.20" y="656" font-size="13" fill="#3a3a3a" dominant-baseline="central" font-weight="normal" >若柳金成</text>
<text x="533.70" y="656" font-size="13.52" fill="#3a3a3a" dominant-baseline="central" font-weight="normal" textLength="11.70" lengthAdjust="spacingAndGlyphs" >IC</text>
<circle cx="467" cy="691.3" r="5.9" fill="#fff" stroke="#45b04b" stroke-width="1.6"/>
<text x="477.20" y="691.3" font-size="13" fill="#3a3a3a" dominant-baseline="central" font-weight="normal" >築館</text>
<text x="507.70" y="691.3" font-size="13.52" fill="#3a3a3a" dominant-baseline="central" font-weight="normal" textLength="11.70" lengthAdjust="spacingAndGlyphs" >IC</text>
<circle cx="467" cy="709.1" r="5.9" fill="#fff" stroke="#45b04b" stroke-width="1.6"/>
<text x="477.20" y="709.1" font-size="13" fill="#3a3a3a" dominant-baseline="central" font-weight="normal" >長者原</text>
<text x="520.70" y="709.1" font-size="13.52" fill="#3a3a3a" dominant-baseline="central" font-weight="normal" textLength="19.50" lengthAdjust="spacingAndGlyphs" >SIC</text>
<circle cx="467" cy="727.5" r="5.9" fill="#fff" stroke="#45b04b" stroke-width="1.6"/>
<text x="477.20" y="727.5" font-size="13" fill="#3a3a3a" dominant-baseline="central" font-weight="normal" >古川</text>
<text x="507.70" y="727.5" font-size="13.52" fill="#3a3a3a" dominant-baseline="central" font-weight="normal" textLength="11.70" lengthAdjust="spacingAndGlyphs" >IC</text>
<circle cx="467" cy="745" r="5.9" fill="#fff" stroke="#45b04b" stroke-width="1.6"/>
<text x="477.20" y="745" font-size="13" fill="#3a3a3a" dominant-baseline="central" font-weight="normal" >三本木</text>
<text x="520.70" y="745" font-size="13.52" fill="#3a3a3a" dominant-baseline="central" font-weight="normal" textLength="19.50" lengthAdjust="spacingAndGlyphs" >SIC</text>
<circle cx="467" cy="762.9" r="5.9" fill="#fff" stroke="#45b04b" stroke-width="1.6"/>
<text x="477.20" y="762.9" font-size="13" fill="#3a3a3a" dominant-baseline="central" font-weight="normal" >大衡</text>
<text x="507.70" y="762.9" font-size="13.52" fill="#3a3a3a" dominant-baseline="central" font-weight="normal" textLength="11.70" lengthAdjust="spacingAndGlyphs" >IC</text>
<circle cx="467" cy="780.6" r="5.9" fill="#fff" stroke="#45b04b" stroke-width="1.6"/>
<text x="477.20" y="780.6" font-size="13" fill="#3a3a3a" dominant-baseline="central" font-weight="normal" >大和</text>
<text x="507.70" y="780.6" font-size="13.52" fill="#3a3a3a" dominant-baseline="central" font-weight="normal" textLength="11.70" lengthAdjust="spacingAndGlyphs" >IC</text>
<circle cx="467" cy="800.5" r="5.9" fill="#fff"/>
<path d="M467 794.9 L472.7 804.1 H461.3 Z" fill="#45b04b"/>
<circle cx="467" cy="800.5" r="5.9" fill="none" stroke="#45b04b" stroke-width="1.6"/>
<circle cx="426" cy="800.5" r="5.9" fill="#fff" stroke="#45b04b" stroke-width="1.6"/>
<text x="426" y="760.0" font-size="13" fill="#3a3a3a" text-anchor="middle" dominant-baseline="central">富</text>
<text x="426" y="772.0" font-size="13" fill="#3a3a3a" text-anchor="middle" dominant-baseline="central">谷</text>
<text x="426" y="784.0" font-size="14.3" fill="#3a3a3a" text-anchor="middle" dominant-baseline="central" textLength="9.72" lengthAdjust="spacingAndGlyphs">IC</text>
<text x="477.5" y="800.5" font-size="13" fill="#8a8a8a" stroke="#fff" stroke-width="2.5" paint-order="stroke" dominant-baseline="central">富谷 JCT</text>
<circle cx="467" cy="818" r="5.9" fill="#fff" stroke="#45b04b" stroke-width="1.6"/>
<text x="477.20" y="818" font-size="13" fill="#3a3a3a" dominant-baseline="central" font-weight="normal" >泉</text>
<text x="494.70" y="818" font-size="13.52" fill="#3a3a3a" dominant-baseline="central" font-weight="normal" textLength="11.70" lengthAdjust="spacingAndGlyphs" >IC</text>
<circle cx="467" cy="836.2" r="5.9" fill="#fff" stroke="#45b04b" stroke-width="1.6"/>
<text x="477.20" y="836.2" font-size="13" fill="#3a3a3a" dominant-baseline="central" font-weight="normal" >泉</text>
<text x="494.70" y="836.2" font-size="13.52" fill="#3a3a3a" dominant-baseline="central" font-weight="normal" textLength="38.36" lengthAdjust="spacingAndGlyphs" >PA SIC</text>
<circle cx="467" cy="853.8" r="5.9" fill="#fff" stroke="#45b04b" stroke-width="1.6"/>
<text x="477.20" y="853.8" font-size="13" fill="#3a3a3a" dominant-baseline="central" font-weight="normal" >仙台宮城</text>
<text x="533.70" y="853.8" font-size="13.52" fill="#3a3a3a" dominant-baseline="central" font-weight="normal" textLength="11.70" lengthAdjust="spacingAndGlyphs" >IC</text>
<circle cx="467" cy="872.5" r="5.9" fill="#fff" stroke="#45b04b" stroke-width="1.6"/>
<text x="401.30" y="872.5" font-size="13" fill="#3a3a3a" dominant-baseline="central" font-weight="normal" >仙台南</text>
<text x="444.80" y="872.5" font-size="13.52" fill="#3a3a3a" dominant-baseline="central" font-weight="normal" textLength="11.70" lengthAdjust="spacingAndGlyphs" >IC</text>
<g transform="translate(456.5 789.6) scale(-1 1)" fill="#e60f1e" stroke="#e60f1e"><path d="M0 -10 V0 H10.5" fill="none" stroke-width="1.4"/><path d="M0 -14.6 L2.6 -9.6 H-2.6 Z" stroke="none"/><path d="M14.7 0 L9.7 -2.5 V2.5 Z" stroke="none"/><path d="M5.2 -12.6 L12.8 -5.2 M12.8 -12.6 L5.2 -5.2" fill="none" stroke-width="1.7"/></g>
<g transform="translate(456.5 810.7) scale(-1 -1)" fill="#e60f1e" stroke="#e60f1e"><path d="M0 -10 V0 H10.5" fill="none" stroke-width="1.4"/><path d="M0 -14.6 L2.6 -9.6 H-2.6 Z" stroke="none"/><path d="M14.7 0 L9.7 -2.5 V2.5 Z" stroke="none"/><path d="M5.2 -12.6 L12.8 -5.2 M12.8 -12.6 L5.2 -5.2" fill="none" stroke-width="1.7"/></g>
<rect x="581.5" y="692" width="22" height="15" rx="2.5" fill="#0f9a47"/>
<text x="592.5" y="700.0" font-size="11" fill="#fff" text-anchor="middle" dominant-baseline="central" textLength="12" lengthAdjust="spacingAndGlyphs">E6</text>
<text x="548" y="720" font-size="14.5" fill="#1f9d49" text-anchor="start" dominant-baseline="central" font-weight="normal" >仙台北部道路</text>
<text x="550" y="743.5" font-size="13" fill="#3a3a3a" text-anchor="start" dominant-baseline="central" font-weight="normal" >利府</text>
<text x="552.00" y="760" font-size="13" fill="#3a3a3a" dominant-baseline="central" font-weight="normal" >しらかし台</text>
<text x="621.50" y="760" font-size="13.52" fill="#3a3a3a" dominant-baseline="central" font-weight="normal" textLength="11.70" lengthAdjust="spacingAndGlyphs" >IC</text>
<circle cx="588" cy="778" r="5.9" fill="#fff" stroke="#45b04b" stroke-width="1.6"/>
<circle cx="728" cy="656.3" r="5.9" fill="#fff" stroke="#45b04b" stroke-width="1.6"/>
<text x="635.30" y="656.3" font-size="13" fill="#3a3a3a" dominant-baseline="central" font-weight="normal" >鳴瀬奥松島</text>
<text x="704.80" y="656.3" font-size="13.52" fill="#3a3a3a" dominant-baseline="central" font-weight="normal" textLength="11.70" lengthAdjust="spacingAndGlyphs" >IC</text>
<circle cx="728" cy="675.6" r="5.9" fill="#fff" stroke="#45b04b" stroke-width="1.6"/>
<text x="661.30" y="675.6" font-size="13" fill="#3a3a3a" dominant-baseline="central" font-weight="normal" >松島北</text>
<text x="704.80" y="675.6" font-size="13.52" fill="#3a3a3a" dominant-baseline="central" font-weight="normal" textLength="11.70" lengthAdjust="spacingAndGlyphs" >IC</text>
<circle cx="728" cy="695.8" r="5.9" fill="#fff" stroke="#45b04b" stroke-width="1.6"/>
<text x="648.30" y="695.8" font-size="13" fill="#3a3a3a" dominant-baseline="central" font-weight="normal" >松島大郷</text>
<text x="704.80" y="695.8" font-size="13.52" fill="#3a3a3a" dominant-baseline="central" font-weight="normal" textLength="11.70" lengthAdjust="spacingAndGlyphs" >IC</text>
<circle cx="728" cy="715.1" r="5.9" fill="#fff" stroke="#45b04b" stroke-width="1.6"/>
<text x="648.30" y="715.1" font-size="13" fill="#3a3a3a" dominant-baseline="central" font-weight="normal" >松島海岸</text>
<text x="704.80" y="715.1" font-size="13.52" fill="#3a3a3a" dominant-baseline="central" font-weight="normal" textLength="11.70" lengthAdjust="spacingAndGlyphs" >IC</text>
<circle cx="728" cy="734.4" r="5.9" fill="#fff" stroke="#45b04b" stroke-width="1.6"/>
<text x="661.30" y="734.4" font-size="13" fill="#3a3a3a" dominant-baseline="central" font-weight="normal" >利府中</text>
<text x="704.80" y="734.4" font-size="13.52" fill="#3a3a3a" dominant-baseline="central" font-weight="normal" textLength="11.70" lengthAdjust="spacingAndGlyphs" >IC</text>
<circle cx="728" cy="754.6" r="5.9" fill="#fff" stroke="#45b04b" stroke-width="1.6"/>
<text x="648.30" y="754.6" font-size="13" fill="#3a3a3a" dominant-baseline="central" font-weight="normal" >利府塩釜</text>
<text x="704.80" y="754.6" font-size="13.52" fill="#3a3a3a" dominant-baseline="central" font-weight="normal" textLength="11.70" lengthAdjust="spacingAndGlyphs" >IC</text>
<circle cx="728" cy="778" r="5.9" fill="#fff"/>
<path d="M728 772.4 L733.7 781.6 H722.3 Z" fill="#45b04b"/>
<circle cx="728" cy="778" r="5.9" fill="none" stroke="#45b04b" stroke-width="1.6"/>
<text x="739.50" y="778" font-size="13" fill="#8a8a8a" dominant-baseline="central" font-weight="normal" >利府</text>
<text x="770.00" y="778" font-size="13.52" fill="#8a8a8a" dominant-baseline="central" font-weight="normal" textLength="21.45" lengthAdjust="spacingAndGlyphs" >JCT</text>
<circle cx="728" cy="796.3" r="5.9" fill="#fff" stroke="#45b04b" stroke-width="1.6"/>
<text x="661.30" y="796.3" font-size="13" fill="#3a3a3a" dominant-baseline="central" font-weight="normal" >多賀城</text>
<text x="704.80" y="796.3" font-size="13.52" fill="#3a3a3a" dominant-baseline="central" font-weight="normal" textLength="11.70" lengthAdjust="spacingAndGlyphs" >IC</text>
<circle cx="728" cy="811" r="5.9" fill="#fff" stroke="#45b04b" stroke-width="1.6"/>
<text x="648.30" y="811" font-size="13" fill="#3a3a3a" dominant-baseline="central" font-weight="normal" >仙台港北</text>
<text x="704.80" y="811" font-size="13.52" fill="#3a3a3a" dominant-baseline="central" font-weight="normal" textLength="11.70" lengthAdjust="spacingAndGlyphs" >IC</text>
<circle cx="728" cy="826.1" r="5.9" fill="#fff" stroke="#45b04b" stroke-width="1.6"/>
<text x="661.30" y="826.1" font-size="13" fill="#3a3a3a" dominant-baseline="central" font-weight="normal" >仙台港</text>
<text x="704.80" y="826.1" font-size="13.52" fill="#3a3a3a" dominant-baseline="central" font-weight="normal" textLength="11.70" lengthAdjust="spacingAndGlyphs" >IC</text>
<circle cx="728" cy="840.8" r="5.9" fill="#fff" stroke="#45b04b" stroke-width="1.6"/>
<text x="661.30" y="840.8" font-size="13" fill="#3a3a3a" dominant-baseline="central" font-weight="normal" >仙台東</text>
<text x="704.80" y="840.8" font-size="13.52" fill="#3a3a3a" dominant-baseline="central" font-weight="normal" textLength="11.70" lengthAdjust="spacingAndGlyphs" >IC</text>
<circle cx="728" cy="860.2" r="5.9" fill="#fff"/>
<path d="M728 854.6 L733.7 863.8000000000001 H722.3 Z" fill="#45b04b"/>
<circle cx="728" cy="860.2" r="5.9" fill="none" stroke="#45b04b" stroke-width="1.6"/>
<text x="739.50" y="860.2" font-size="13" fill="#8a8a8a" dominant-baseline="central" font-weight="normal" >仙台若林</text>
<text x="796.00" y="860.2" font-size="13.52" fill="#8a8a8a" dominant-baseline="central" font-weight="normal" textLength="21.45" lengthAdjust="spacingAndGlyphs" >JCT</text>
<circle cx="728" cy="877.6" r="5.9" fill="#fff" stroke="#45b04b" stroke-width="1.6"/>
<text x="739.50" y="877.6" font-size="13" fill="#3a3a3a" dominant-baseline="central" font-weight="normal" >名取</text>
<text x="770.00" y="877.6" font-size="13.52" fill="#3a3a3a" dominant-baseline="central" font-weight="normal" textLength="11.70" lengthAdjust="spacingAndGlyphs" >IC</text>
<circle cx="728" cy="893" r="5.9" fill="#fff" stroke="#45b04b" stroke-width="1.6"/>
<text x="739.50" y="893" font-size="13" fill="#3a3a3a" dominant-baseline="central" font-weight="normal" >名取中央</text>
<text x="796.00" y="893" font-size="13.52" fill="#3a3a3a" dominant-baseline="central" font-weight="normal" textLength="19.50" lengthAdjust="spacingAndGlyphs" >SIC</text>
<circle cx="728" cy="908.5" r="5.9" fill="#fff" stroke="#45b04b" stroke-width="1.6"/>
<text x="739.50" y="908.5" font-size="13" fill="#3a3a3a" dominant-baseline="central" font-weight="normal" >仙台空港</text>
<text x="796.00" y="908.5" font-size="13.52" fill="#3a3a3a" dominant-baseline="central" font-weight="normal" textLength="11.70" lengthAdjust="spacingAndGlyphs" >IC</text>
<rect x="798.5" y="719.5" width="21" height="15" rx="2.5" fill="#0f9a47"/>
<text x="809.0" y="727.5" font-size="11" fill="#fff" text-anchor="middle" dominant-baseline="central" textLength="11" lengthAdjust="spacingAndGlyphs">E6</text>
<text x="808.5" y="747.5" font-size="14.5" fill="#1f9d49" text-anchor="middle" dominant-baseline="central">仙</text>
<text x="808.5" y="762.5" font-size="14.5" fill="#1f9d49" text-anchor="middle" dominant-baseline="central">台</text>
<text x="808.5" y="777.5" font-size="14.5" fill="#1f9d49" text-anchor="middle" dominant-baseline="central">東</text>
<text x="808.5" y="792.5" font-size="14.5" fill="#1f9d49" text-anchor="middle" dominant-baseline="central">部</text>
<text x="808.5" y="807.5" font-size="14.5" fill="#1f9d49" text-anchor="middle" dominant-baseline="central">道</text>
<text x="808.5" y="822.5" font-size="14.5" fill="#1f9d49" text-anchor="middle" dominant-baseline="central">路</text>
<path d="M599.5 853.7 A6.5 6.5 0 0 1 599.5 866.7 Z" fill="#fff" stroke="#45b04b" stroke-width="1.6"/>
<circle cx="627.5" cy="860.2" r="5.9" fill="#fff" stroke="#45b04b" stroke-width="1.6"/>
<circle cx="655.4" cy="860.2" r="5.9" fill="#fff" stroke="#45b04b" stroke-width="1.6"/>
<text x="599.5" y="878.0" font-size="13" fill="#3a3a3a" text-anchor="middle" dominant-baseline="central">山</text>
<text x="599.5" y="890.0" font-size="13" fill="#3a3a3a" text-anchor="middle" dominant-baseline="central">田</text>
<text x="599.5" y="902.0" font-size="14.3" fill="#3a3a3a" text-anchor="middle" dominant-baseline="central" textLength="9.72" lengthAdjust="spacingAndGlyphs">IC</text>
<text x="627.5" y="878.0" font-size="13" fill="#3a3a3a" text-anchor="middle" dominant-baseline="central">長</text>
<text x="627.5" y="890.0" font-size="13" fill="#3a3a3a" text-anchor="middle" dominant-baseline="central">町</text>
<text x="627.5" y="902.0" font-size="14.3" fill="#3a3a3a" text-anchor="middle" dominant-baseline="central" textLength="9.72" lengthAdjust="spacingAndGlyphs">IC</text>
<text x="655.4" y="878.0" font-size="13" fill="#3a3a3a" text-anchor="middle" dominant-baseline="central">今</text>
<text x="655.4" y="890.0" font-size="13" fill="#3a3a3a" text-anchor="middle" dominant-baseline="central">泉</text>
<text x="655.4" y="902.0" font-size="14.3" fill="#3a3a3a" text-anchor="middle" dominant-baseline="central" textLength="9.72" lengthAdjust="spacingAndGlyphs">IC</text>
<rect x="579" y="804.5" width="27" height="15" rx="2.5" fill="#0f9a47"/>
<text x="592.5" y="812.5" font-size="11" fill="#fff" text-anchor="middle" dominant-baseline="central" textLength="17" lengthAdjust="spacingAndGlyphs">E48</text>
<text x="548" y="831" font-size="14.5" fill="#1f9d49" text-anchor="start" dominant-baseline="central" font-weight="normal" >仙台南部道路</text>
<circle cx="728" cy="958" r="5.9" fill="#fff" stroke="#45b04b" stroke-width="1.6"/>
<text x="739.50" y="958" font-size="13" fill="#3a3a3a" dominant-baseline="central" font-weight="normal" >岩沼</text>
<text x="770.00" y="958" font-size="13.52" fill="#3a3a3a" dominant-baseline="central" font-weight="normal" textLength="11.70" lengthAdjust="spacingAndGlyphs" >IC</text>
<circle cx="728" cy="973.1" r="5.9" fill="#fff" stroke="#45b04b" stroke-width="1.6"/>
<text x="739.50" y="973.1" font-size="13" fill="#3a3a3a" dominant-baseline="central" font-weight="normal" >亘理</text>
<text x="770.00" y="973.1" font-size="13.52" fill="#3a3a3a" dominant-baseline="central" font-weight="normal" textLength="11.70" lengthAdjust="spacingAndGlyphs" >IC</text>
<circle cx="728" cy="988.3" r="5.9" fill="#fff" stroke="#45b04b" stroke-width="1.6"/>
<text x="739.50" y="988.3" font-size="13" fill="#3a3a3a" dominant-baseline="central" font-weight="normal" >鳥の海</text>
<text x="783.00" y="988.3" font-size="13.52" fill="#3a3a3a" dominant-baseline="central" font-weight="normal" textLength="19.50" lengthAdjust="spacingAndGlyphs" >SIC</text>
<circle cx="728" cy="1003.8" r="5.9" fill="#fff" stroke="#45b04b" stroke-width="1.6"/>
<text x="739.50" y="1003.8" font-size="13" fill="#3a3a3a" dominant-baseline="central" font-weight="normal" >山元</text>
<text x="770.00" y="1003.8" font-size="13.52" fill="#3a3a3a" dominant-baseline="central" font-weight="normal" textLength="11.70" lengthAdjust="spacingAndGlyphs" >IC</text>
<circle cx="728" cy="1019.3" r="5.9" fill="#fff" stroke="#45b04b" stroke-width="1.6"/>
<text x="739.50" y="1019.3" font-size="13" fill="#3a3a3a" dominant-baseline="central" font-weight="normal" >山元南</text>
<text x="783.00" y="1019.3" font-size="13.52" fill="#3a3a3a" dominant-baseline="central" font-weight="normal" textLength="19.50" lengthAdjust="spacingAndGlyphs" >SIC</text>
<circle cx="728" cy="1043.3" r="5.9" fill="#fff" stroke="#45b04b" stroke-width="1.6"/>
<text x="739.50" y="1043.3" font-size="13" fill="#3a3a3a" dominant-baseline="central" font-weight="normal" >新地</text>
<text x="770.00" y="1043.3" font-size="13.52" fill="#3a3a3a" dominant-baseline="central" font-weight="normal" textLength="11.70" lengthAdjust="spacingAndGlyphs" >IC</text>
<circle cx="728" cy="1058.8" r="5.9" fill="#fff" stroke="#45b04b" stroke-width="1.6"/>
<text x="739.50" y="1058.8" font-size="13" fill="#3a3a3a" dominant-baseline="central" font-weight="normal" >相馬</text>
<text x="770.00" y="1058.8" font-size="13.52" fill="#3a3a3a" dominant-baseline="central" font-weight="normal" textLength="11.70" lengthAdjust="spacingAndGlyphs" >IC</text>
<circle cx="728" cy="1074" r="5.9" fill="#fff" stroke="#45b04b" stroke-width="1.6"/>
<text x="739.50" y="1074" font-size="13" fill="#3a3a3a" dominant-baseline="central" font-weight="normal" >南相馬鹿島</text>
<text x="809.00" y="1074" font-size="13.52" fill="#3a3a3a" dominant-baseline="central" font-weight="normal" textLength="19.50" lengthAdjust="spacingAndGlyphs" >SIC</text>
<circle cx="728" cy="1089.5" r="5.9" fill="#fff" stroke="#45b04b" stroke-width="1.6"/>
<text x="739.50" y="1089.5" font-size="13" fill="#3a3a3a" dominant-baseline="central" font-weight="normal" >南相馬</text>
<text x="783.00" y="1089.5" font-size="13.52" fill="#3a3a3a" dominant-baseline="central" font-weight="normal" textLength="11.70" lengthAdjust="spacingAndGlyphs" >IC</text>
<circle cx="728" cy="1118.8" r="5.9" fill="#fff" stroke="#45b04b" stroke-width="1.6"/>
<text x="739.50" y="1118.8" font-size="13" fill="#3a3a3a" dominant-baseline="central" font-weight="normal" >浪江</text>
<text x="770.00" y="1118.8" font-size="13.52" fill="#3a3a3a" dominant-baseline="central" font-weight="normal" textLength="11.70" lengthAdjust="spacingAndGlyphs" >IC</text>
<circle cx="728" cy="1134" r="5.9" fill="#fff" stroke="#45b04b" stroke-width="1.6"/>
<text x="739.50" y="1134" font-size="13" fill="#3a3a3a" dominant-baseline="central" font-weight="normal" >常磐双葉</text>
<text x="796.00" y="1134" font-size="13.52" fill="#3a3a3a" dominant-baseline="central" font-weight="normal" textLength="11.70" lengthAdjust="spacingAndGlyphs" >IC</text>
<circle cx="728" cy="1149.5" r="5.9" fill="#fff" stroke="#45b04b" stroke-width="1.6"/>
<text x="739.50" y="1149.5" font-size="13" fill="#3a3a3a" dominant-baseline="central" font-weight="normal" >大熊</text>
<text x="770.00" y="1149.5" font-size="13.52" fill="#3a3a3a" dominant-baseline="central" font-weight="normal" textLength="11.70" lengthAdjust="spacingAndGlyphs" >IC</text>
<circle cx="728" cy="1164.7" r="5.9" fill="#fff" stroke="#45b04b" stroke-width="1.6"/>
<text x="739.50" y="1164.7" font-size="13" fill="#3a3a3a" dominant-baseline="central" font-weight="normal" >常磐富岡</text>
<text x="796.00" y="1164.7" font-size="13.52" fill="#3a3a3a" dominant-baseline="central" font-weight="normal" textLength="11.70" lengthAdjust="spacingAndGlyphs" >IC</text>
<circle cx="728" cy="1180" r="5.9" fill="#fff" stroke="#45b04b" stroke-width="1.6"/>
<text x="739.50" y="1180" font-size="13" fill="#3a3a3a" dominant-baseline="central" font-weight="normal" >ならは</text>
<text x="783.00" y="1180" font-size="13.52" fill="#3a3a3a" dominant-baseline="central" font-weight="normal" textLength="19.50" lengthAdjust="spacingAndGlyphs" >SIC</text>
<circle cx="728" cy="1194.8" r="5.9" fill="#fff" stroke="#45b04b" stroke-width="1.6"/>
<text x="739.50" y="1194.8" font-size="13" fill="#3a3a3a" dominant-baseline="central" font-weight="normal" >広野</text>
<text x="770.00" y="1194.8" font-size="13.52" fill="#3a3a3a" dominant-baseline="central" font-weight="normal" textLength="11.70" lengthAdjust="spacingAndGlyphs" >IC</text>
<circle cx="728" cy="1210" r="5.9" fill="#fff" stroke="#45b04b" stroke-width="1.6"/>
<text x="739.50" y="1210" font-size="13" fill="#3a3a3a" dominant-baseline="central" font-weight="normal" >いわき四倉</text>
<text x="809.00" y="1210" font-size="13.52" fill="#3a3a3a" dominant-baseline="central" font-weight="normal" textLength="11.70" lengthAdjust="spacingAndGlyphs" >IC</text>
<circle cx="728" cy="1225.5" r="5.9" fill="#fff" stroke="#45b04b" stroke-width="1.6"/>
<text x="739.50" y="1225.5" font-size="13" fill="#3a3a3a" dominant-baseline="central" font-weight="normal" >いわき中央</text>
<text x="809.00" y="1225.5" font-size="13.52" fill="#3a3a3a" dominant-baseline="central" font-weight="normal" textLength="11.70" lengthAdjust="spacingAndGlyphs" >IC</text>
<circle cx="728" cy="1244.5" r="5.9" fill="#fff"/>
<path d="M728 1238.9 L733.7 1248.1 H722.3 Z" fill="#45b04b"/>
<circle cx="728" cy="1244.5" r="5.9" fill="none" stroke="#45b04b" stroke-width="1.6"/>
<text x="739.50" y="1244.5" font-size="13" fill="#8a8a8a" dominant-baseline="central" font-weight="normal" >いわき</text>
<text x="783.00" y="1244.5" font-size="13.52" fill="#8a8a8a" dominant-baseline="central" font-weight="normal" textLength="21.45" lengthAdjust="spacingAndGlyphs" >JCT</text>
<circle cx="728" cy="1290.2" r="5.9" fill="#fff" stroke="#45b04b" stroke-width="1.6"/>
<text x="739.50" y="1290.2" font-size="13" fill="#3a3a3a" dominant-baseline="central" font-weight="normal" >いわき湯本</text>
<text x="809.00" y="1290.2" font-size="13.52" fill="#3a3a3a" dominant-baseline="central" font-weight="normal" textLength="11.70" lengthAdjust="spacingAndGlyphs" >IC</text>
<circle cx="728" cy="1316.5" r="5.9" fill="#fff" stroke="#45b04b" stroke-width="1.6"/>
<text x="622.30" y="1316.5" font-size="13" fill="#3a3a3a" dominant-baseline="central" font-weight="normal" >いわき小名浜</text>
<text x="704.80" y="1316.5" font-size="13.52" fill="#3a3a3a" dominant-baseline="central" font-weight="normal" textLength="11.70" lengthAdjust="spacingAndGlyphs" >IC</text>
<circle cx="728" cy="1342.8" r="5.9" fill="#fff" stroke="#45b04b" stroke-width="1.6"/>
<text x="635.30" y="1342.8" font-size="13" fill="#3a3a3a" dominant-baseline="central" font-weight="normal" >いわき勿来</text>
<text x="704.80" y="1342.8" font-size="13.52" fill="#3a3a3a" dominant-baseline="central" font-weight="normal" textLength="11.70" lengthAdjust="spacingAndGlyphs" >IC</text>
<rect x="664.5" y="985.5" width="22" height="15" rx="2.5" fill="#0f9a47"/>
<text x="675.5" y="993.5" font-size="11" fill="#fff" text-anchor="middle" dominant-baseline="central" textLength="12" lengthAdjust="spacingAndGlyphs">E6</text>
<text x="701.5" y="977.5" font-size="14.5" fill="#1f9d49" text-anchor="middle" dominant-baseline="central">常</text>
<text x="701.5" y="992.5" font-size="14.5" fill="#1f9d49" text-anchor="middle" dominant-baseline="central">磐</text>
<text x="701.5" y="1007.5" font-size="14.5" fill="#1f9d49" text-anchor="middle" dominant-baseline="central">道</text>
<circle cx="280" cy="871" r="5.9" fill="#fff" stroke="#45b04b" stroke-width="1.6"/>
<text x="227.30" y="871" font-size="13" fill="#3a3a3a" dominant-baseline="central" font-weight="normal" >東根</text>
<text x="257.80" y="871" font-size="13.52" fill="#3a3a3a" dominant-baseline="central" font-weight="normal" textLength="11.70" lengthAdjust="spacingAndGlyphs" >IC</text>
<circle cx="280" cy="894" r="5.9" fill="#fff" stroke="#45b04b" stroke-width="1.6"/>
<text x="227.30" y="894" font-size="13" fill="#3a3a3a" dominant-baseline="central" font-weight="normal" >天童</text>
<text x="257.80" y="894" font-size="13.52" fill="#3a3a3a" dominant-baseline="central" font-weight="normal" textLength="11.70" lengthAdjust="spacingAndGlyphs" >IC</text>
<circle cx="280" cy="955" r="5.9" fill="#fff"/>
<path d="M280 949.4 L285.7 958.6 H274.3 Z" fill="#45b04b"/>
<circle cx="280" cy="955" r="5.9" fill="none" stroke="#45b04b" stroke-width="1.6"/>
<rect x="295" y="780.5" width="26" height="15" rx="2.5" fill="#0f9a47"/>
<text x="308.0" y="788.5" font-size="11" fill="#fff" text-anchor="middle" dominant-baseline="central" textLength="16" lengthAdjust="spacingAndGlyphs">E13</text>
<text x="307.5" y="811.0" font-size="14.5" fill="#1f9d49" text-anchor="middle" dominant-baseline="central">東</text>
<text x="307.5" y="826.0" font-size="14.5" fill="#1f9d49" text-anchor="middle" dominant-baseline="central">北</text>
<text x="307.5" y="841.0" font-size="14.5" fill="#1f9d49" text-anchor="middle" dominant-baseline="central">中</text>
<text x="307.5" y="856.0" font-size="14.5" fill="#1f9d49" text-anchor="middle" dominant-baseline="central">央</text>
<text x="307.5" y="871.0" font-size="14.5" fill="#1f9d49" text-anchor="middle" dominant-baseline="central">道</text>
<circle cx="190.6" cy="955" r="5.9" fill="#fff" stroke="#45b04b" stroke-width="1.6"/>
<circle cx="212.5" cy="955" r="5.9" fill="#fff" stroke="#45b04b" stroke-width="1.6"/>
<circle cx="234.8" cy="955" r="5.9" fill="#fff" stroke="#45b04b" stroke-width="1.6"/>
<circle cx="257.1" cy="955" r="5.9" fill="#fff" stroke="#45b04b" stroke-width="1.6"/>
<circle cx="318" cy="955" r="5.9" fill="#fff" stroke="#45b04b" stroke-width="1.6"/>
<circle cx="344.5" cy="955" r="5.9" fill="#fff" stroke="#45b04b" stroke-width="1.6"/>
<circle cx="405.5" cy="955" r="5.9" fill="#fff" stroke="#45b04b" stroke-width="1.6"/>
<circle cx="436.4" cy="955" r="5.9" fill="#fff" stroke="#45b04b" stroke-width="1.6"/>
<path d="M375.5 948.5 A6.5 6.5 0 0 1 375.5 961.5 Z" fill="#fff" stroke="#45b04b" stroke-width="1.6"/>
<text x="217.03" y="935.5" font-size="13" fill="#8a8a8a" dominant-baseline="central" font-weight="normal" >山形</text>
<text x="247.53" y="935.5" font-size="13.52" fill="#8a8a8a" dominant-baseline="central" font-weight="normal" textLength="21.45" lengthAdjust="spacingAndGlyphs" >JCT</text>
<text x="318" y="903.0" font-size="13" fill="#3a3a3a" text-anchor="middle" dominant-baseline="central">山</text>
<text x="318" y="915.0" font-size="13" fill="#3a3a3a" text-anchor="middle" dominant-baseline="central">形</text>
<text x="318" y="927.0" font-size="13" fill="#3a3a3a" text-anchor="middle" dominant-baseline="central">北</text>
<text x="318" y="939.0" font-size="14.3" fill="#3a3a3a" text-anchor="middle" dominant-baseline="central" textLength="9.72" lengthAdjust="spacingAndGlyphs">IC</text>
<text x="344.5" y="891.0" font-size="13" fill="#3a3a3a" text-anchor="middle" dominant-baseline="central">山</text>
<text x="344.5" y="903.0" font-size="13" fill="#3a3a3a" text-anchor="middle" dominant-baseline="central">形</text>
<text x="344.5" y="915.0" font-size="13" fill="#3a3a3a" text-anchor="middle" dominant-baseline="central">蔵</text>
<text x="344.5" y="927.0" font-size="13" fill="#3a3a3a" text-anchor="middle" dominant-baseline="central">王</text>
<text x="344.5" y="939.0" font-size="14.3" fill="#3a3a3a" text-anchor="middle" dominant-baseline="central" textLength="9.72" lengthAdjust="spacingAndGlyphs">IC</text>
<rect x="366" y="923" width="26" height="15" rx="2.5" fill="#0f9a47"/>
<text x="379.0" y="931.0" font-size="11" fill="#fff" text-anchor="middle" dominant-baseline="central" textLength="16" lengthAdjust="spacingAndGlyphs">E48</text>
<text x="399" y="930" font-size="14.5" fill="#1f9d49" text-anchor="start" dominant-baseline="central" font-weight="normal" >山形道</text>
<text x="190.6" y="974.0" font-size="13" fill="#3a3a3a" text-anchor="middle" dominant-baseline="central">月</text>
<text x="190.6" y="986.0" font-size="13" fill="#3a3a3a" text-anchor="middle" dominant-baseline="central">山</text>
<text x="190.6" y="998.0" font-size="14.3" fill="#3a3a3a" text-anchor="middle" dominant-baseline="central" textLength="9.72" lengthAdjust="spacingAndGlyphs">IC</text>
<text x="212.5" y="974.0" font-size="13" fill="#3a3a3a" text-anchor="middle" dominant-baseline="central">西</text>
<text x="212.5" y="986.0" font-size="13" fill="#3a3a3a" text-anchor="middle" dominant-baseline="central">川</text>
<text x="212.5" y="998.0" font-size="14.3" fill="#3a3a3a" text-anchor="middle" dominant-baseline="central" textLength="9.72" lengthAdjust="spacingAndGlyphs">IC</text>
<text x="234.8" y="974.0" font-size="13" fill="#3a3a3a" text-anchor="middle" dominant-baseline="central">寒</text>
<text x="234.8" y="986.0" font-size="13" fill="#3a3a3a" text-anchor="middle" dominant-baseline="central">河</text>
<text x="234.8" y="998.0" font-size="13" fill="#3a3a3a" text-anchor="middle" dominant-baseline="central">江</text>
<text x="234.8" y="1010.0" font-size="14.3" fill="#3a3a3a" text-anchor="middle" dominant-baseline="central" textLength="12.97" lengthAdjust="spacingAndGlyphs">SA</text>
<text x="234.8" y="1022.0" font-size="14.3" fill="#3a3a3a" text-anchor="middle" dominant-baseline="central" textLength="16.21" lengthAdjust="spacingAndGlyphs">SIC</text>
<text x="257.1" y="974.0" font-size="13" fill="#3a3a3a" text-anchor="middle" dominant-baseline="central">寒</text>
<text x="257.1" y="986.0" font-size="13" fill="#3a3a3a" text-anchor="middle" dominant-baseline="central">河</text>
<text x="257.1" y="998.0" font-size="13" fill="#3a3a3a" text-anchor="middle" dominant-baseline="central">江</text>
<text x="257.1" y="1010.0" font-size="14.3" fill="#3a3a3a" text-anchor="middle" dominant-baseline="central" textLength="9.72" lengthAdjust="spacingAndGlyphs">IC</text>
<text x="375.5" y="974.0" font-size="13" fill="#3a3a3a" text-anchor="middle" dominant-baseline="central">関</text>
<text x="375.5" y="986.0" font-size="13" fill="#3a3a3a" text-anchor="middle" dominant-baseline="central">沢</text>
<text x="375.5" y="998.0" font-size="14.3" fill="#3a3a3a" text-anchor="middle" dominant-baseline="central" textLength="9.72" lengthAdjust="spacingAndGlyphs">IC</text>
<text x="405.5" y="974.0" font-size="13" fill="#3a3a3a" text-anchor="middle" dominant-baseline="central">笹</text>
<text x="405.5" y="986.0" font-size="13" fill="#3a3a3a" text-anchor="middle" dominant-baseline="central">谷</text>
<text x="405.5" y="998.0" font-size="14.3" fill="#3a3a3a" text-anchor="middle" dominant-baseline="central" textLength="9.72" lengthAdjust="spacingAndGlyphs">IC</text>
<text x="436.4" y="974.0" font-size="13" fill="#3a3a3a" text-anchor="middle" dominant-baseline="central">宮</text>
<text x="436.4" y="986.0" font-size="13" fill="#3a3a3a" text-anchor="middle" dominant-baseline="central">城</text>
<text x="436.4" y="998.0" font-size="13" fill="#3a3a3a" text-anchor="middle" dominant-baseline="central">川</text>
<text x="436.4" y="1010.0" font-size="13" fill="#3a3a3a" text-anchor="middle" dominant-baseline="central">崎</text>
<text x="436.4" y="1022.0" font-size="14.3" fill="#3a3a3a" text-anchor="middle" dominant-baseline="central" textLength="9.72" lengthAdjust="spacingAndGlyphs">IC</text>
<circle cx="280" cy="979.3" r="5.9" fill="#fff" stroke="#45b04b" stroke-width="1.6"/>
<text x="289.00" y="979.3" font-size="13" fill="#3a3a3a" dominant-baseline="central" font-weight="normal" >山形中央</text>
<text x="345.50" y="979.3" font-size="13.52" fill="#3a3a3a" dominant-baseline="central" font-weight="normal" textLength="11.70" lengthAdjust="spacingAndGlyphs" >IC</text>
<circle cx="280" cy="999.8" r="5.9" fill="#fff" stroke="#45b04b" stroke-width="1.6"/>
<text x="289.00" y="999.8" font-size="13" fill="#3a3a3a" dominant-baseline="central" font-weight="normal" >山形</text>
<text x="319.50" y="999.8" font-size="13.52" fill="#3a3a3a" dominant-baseline="central" font-weight="normal" textLength="35.11" lengthAdjust="spacingAndGlyphs" >PASIC</text>
<circle cx="280" cy="1021.2" r="5.9" fill="#fff" stroke="#45b04b" stroke-width="1.6"/>
<text x="289.00" y="1021.2" font-size="13" fill="#3a3a3a" dominant-baseline="central" font-weight="normal" >山形上山</text>
<text x="345.50" y="1021.2" font-size="13.52" fill="#3a3a3a" dominant-baseline="central" font-weight="normal" textLength="11.70" lengthAdjust="spacingAndGlyphs" >IC</text>
<circle cx="280" cy="1041.2" r="5.9" fill="#fff" stroke="#45b04b" stroke-width="1.6"/>
<text x="289.00" y="1041.2" font-size="13" fill="#3a3a3a" dominant-baseline="central" font-weight="normal" >かみのやま温泉</text>
<text x="380.00" y="1041.2" font-size="13.52" fill="#3a3a3a" dominant-baseline="central" font-weight="normal" textLength="11.70" lengthAdjust="spacingAndGlyphs" >IC</text>
<circle cx="280" cy="1062.6" r="5.9" fill="#fff" stroke="#45b04b" stroke-width="1.6"/>
<text x="289.00" y="1062.6" font-size="13" fill="#3a3a3a" dominant-baseline="central" font-weight="normal" >南陽高畠</text>
<text x="345.50" y="1062.6" font-size="13.52" fill="#3a3a3a" dominant-baseline="central" font-weight="normal" textLength="11.70" lengthAdjust="spacingAndGlyphs" >IC</text>
<circle cx="280" cy="1083.3" r="5.9" fill="#fff" stroke="#45b04b" stroke-width="1.6"/>
<text x="214.30" y="1083.3" font-size="13" fill="#3a3a3a" dominant-baseline="central" font-weight="normal" >米沢北</text>
<text x="257.80" y="1083.3" font-size="13.52" fill="#3a3a3a" dominant-baseline="central" font-weight="normal" textLength="11.70" lengthAdjust="spacingAndGlyphs" >IC</text>
<circle cx="330" cy="1083.3" r="5.9" fill="#fff" stroke="#45b04b" stroke-width="1.6"/>
<circle cx="367.7" cy="1083.3" r="5.9" fill="#fff" stroke="#45b04b" stroke-width="1.6"/>
<circle cx="412.3" cy="1083.3" r="5.9" fill="#fff" stroke="#45b04b" stroke-width="1.6"/>
<text x="330" y="1101.5" font-size="13" fill="#3a3a3a" text-anchor="middle" dominant-baseline="central">米</text>
<text x="330" y="1113.5" font-size="13" fill="#3a3a3a" text-anchor="middle" dominant-baseline="central">沢</text>
<text x="330" y="1125.5" font-size="13" fill="#3a3a3a" text-anchor="middle" dominant-baseline="central">中</text>
<text x="330" y="1137.5" font-size="13" fill="#3a3a3a" text-anchor="middle" dominant-baseline="central">央</text>
<text x="330" y="1149.5" font-size="14.3" fill="#3a3a3a" text-anchor="middle" dominant-baseline="central" textLength="9.72" lengthAdjust="spacingAndGlyphs">IC</text>
<text x="367.7" y="1101.5" font-size="13" fill="#3a3a3a" text-anchor="middle" dominant-baseline="central">米</text>
<text x="367.7" y="1113.5" font-size="13" fill="#3a3a3a" text-anchor="middle" dominant-baseline="central">沢</text>
<text x="367.7" y="1125.5" font-size="13" fill="#3a3a3a" text-anchor="middle" dominant-baseline="central">八</text>
<text x="367.7" y="1137.5" font-size="13" fill="#3a3a3a" text-anchor="middle" dominant-baseline="central">幡</text>
<text x="367.7" y="1149.5" font-size="13" fill="#3a3a3a" text-anchor="middle" dominant-baseline="central">原</text>
<text x="367.7" y="1161.5" font-size="14.3" fill="#3a3a3a" text-anchor="middle" dominant-baseline="central" textLength="9.72" lengthAdjust="spacingAndGlyphs">IC</text>
<text x="412.3" y="1101.5" font-size="13" fill="#3a3a3a" text-anchor="middle" dominant-baseline="central">福</text>
<text x="412.3" y="1113.5" font-size="13" fill="#3a3a3a" text-anchor="middle" dominant-baseline="central">島</text>
<text x="412.3" y="1125.5" font-size="13" fill="#3a3a3a" text-anchor="middle" dominant-baseline="central">大</text>
<text x="412.3" y="1137.5" font-size="13" fill="#3a3a3a" text-anchor="middle" dominant-baseline="central">笹</text>
<text x="412.3" y="1149.5" font-size="13" fill="#3a3a3a" text-anchor="middle" dominant-baseline="central">生</text>
<text x="412.3" y="1161.5" font-size="14.3" fill="#3a3a3a" text-anchor="middle" dominant-baseline="central" textLength="9.72" lengthAdjust="spacingAndGlyphs">IC</text>
<circle cx="120.3" cy="753.4" r="5.9" fill="#fff" stroke="#45b04b" stroke-width="1.6"/>
<text x="26.30" y="753.4" font-size="13" fill="#3a3a3a" dominant-baseline="central" font-weight="normal" >酒田みなと</text>
<text x="95.80" y="753.4" font-size="13.52" fill="#3a3a3a" dominant-baseline="central" font-weight="normal" textLength="11.70" lengthAdjust="spacingAndGlyphs" >IC</text>
<circle cx="120.3" cy="782.3" r="5.9" fill="#fff" stroke="#45b04b" stroke-width="1.6"/>
<text x="39.30" y="782.3" font-size="13" fill="#3a3a3a" dominant-baseline="central" font-weight="normal" >酒田中央</text>
<text x="95.80" y="782.3" font-size="13.52" fill="#3a3a3a" dominant-baseline="central" font-weight="normal" textLength="11.70" lengthAdjust="spacingAndGlyphs" >IC</text>
<circle cx="120.3" cy="811.1" r="5.9" fill="#fff" stroke="#45b04b" stroke-width="1.6"/>
<text x="65.30" y="811.1" font-size="13" fill="#3a3a3a" dominant-baseline="central" font-weight="normal" >酒田</text>
<text x="95.80" y="811.1" font-size="13.52" fill="#3a3a3a" dominant-baseline="central" font-weight="normal" textLength="11.70" lengthAdjust="spacingAndGlyphs" >IC</text>
<circle cx="120.3" cy="839.4" r="5.9" fill="#fff" stroke="#45b04b" stroke-width="1.6"/>
<text x="39.30" y="839.4" font-size="13" fill="#3a3a3a" dominant-baseline="central" font-weight="normal" >庄内空港</text>
<text x="95.80" y="839.4" font-size="13.52" fill="#3a3a3a" dominant-baseline="central" font-weight="normal" textLength="11.70" lengthAdjust="spacingAndGlyphs" >IC</text>
<circle cx="120.3" cy="868" r="5.9" fill="#fff"/>
<path d="M120.3 862.4 L126.0 871.6 H114.6 Z" fill="#45b04b"/>
<circle cx="120.3" cy="868" r="5.9" fill="none" stroke="#45b04b" stroke-width="1.6"/>
<text x="131.00" y="868" font-size="13" fill="#3a3a3a" dominant-baseline="central" font-weight="normal" >鶴岡</text>
<text x="161.50" y="868" font-size="13.52" fill="#3a3a3a" dominant-baseline="central" font-weight="normal" textLength="21.45" lengthAdjust="spacingAndGlyphs" >JCT</text>
<circle cx="120.3" cy="899.2" r="5.9" fill="#fff" stroke="#45b04b" stroke-width="1.6"/>
<text x="67.30" y="899.2" font-size="13" fill="#3a3a3a" dominant-baseline="central" font-weight="normal" >鶴岡</text>
<text x="97.80" y="899.2" font-size="13.52" fill="#3a3a3a" dominant-baseline="central" font-weight="normal" textLength="11.70" lengthAdjust="spacingAndGlyphs" >IC</text>
<circle cx="120.3" cy="928" r="5.9" fill="#fff" stroke="#45b04b" stroke-width="1.6"/>
<text x="28.30" y="928" font-size="13" fill="#3a3a3a" dominant-baseline="central" font-weight="normal" >庄内あさひ</text>
<text x="97.80" y="928" font-size="13.52" fill="#3a3a3a" dominant-baseline="central" font-weight="normal" textLength="11.70" lengthAdjust="spacingAndGlyphs" >IC</text>
<circle cx="120.3" cy="955" r="5.9" fill="#fff" stroke="#45b04b" stroke-width="1.6"/>
<text x="54.30" y="955" font-size="13" fill="#3a3a3a" dominant-baseline="central" font-weight="normal" >湯殿山</text>
<text x="97.80" y="955" font-size="13.52" fill="#3a3a3a" dominant-baseline="central" font-weight="normal" textLength="11.70" lengthAdjust="spacingAndGlyphs" >IC</text>
<rect x="164" y="771.5" width="22" height="15" rx="2.5" fill="#0f9a47"/>
<text x="175.0" y="779.5" font-size="11" fill="#fff" text-anchor="middle" dominant-baseline="central" textLength="12" lengthAdjust="spacingAndGlyphs">E7</text>
<text x="150" y="742.95" font-size="14.5" fill="#1f9d49" text-anchor="middle" dominant-baseline="central">日</text>
<text x="150" y="757.85" font-size="14.5" fill="#1f9d49" text-anchor="middle" dominant-baseline="central">本</text>
<text x="150" y="772.75" font-size="14.5" fill="#1f9d49" text-anchor="middle" dominant-baseline="central">海</text>
<text x="150" y="787.6500000000001" font-size="14.5" fill="#1f9d49" text-anchor="middle" dominant-baseline="central">東</text>
<text x="150" y="802.5500000000001" font-size="14.5" fill="#1f9d49" text-anchor="middle" dominant-baseline="central">北</text>
<text x="150" y="817.45" font-size="14.5" fill="#1f9d49" text-anchor="middle" dominant-baseline="central">道</text>
<rect x="165.5" y="912.5" width="27" height="15" rx="2.5" fill="#0f9a47"/>
<text x="179.0" y="920.5" font-size="11" fill="#fff" text-anchor="middle" dominant-baseline="central" textLength="17" lengthAdjust="spacingAndGlyphs">E48</text>
<text x="150" y="906.65" font-size="14.5" fill="#1f9d49" text-anchor="middle" dominant-baseline="central">山</text>
<text x="150" y="920.9499999999999" font-size="14.5" fill="#1f9d49" text-anchor="middle" dominant-baseline="central">形</text>
<text x="150" y="935.25" font-size="14.5" fill="#1f9d49" text-anchor="middle" dominant-baseline="central">道</text>
<g transform="translate(111.2 876.3) scale(-1 -1)" fill="#e60f1e" stroke="#e60f1e"><path d="M0 -10 V0 H10.5" fill="none" stroke-width="1.4"/><path d="M0 -14.6 L2.6 -9.6 H-2.6 Z" stroke="none"/><path d="M14.7 0 L9.7 -2.5 V2.5 Z" stroke="none"/><path d="M5.2 -12.6 L12.8 -5.2 M12.8 -12.6 L5.2 -5.2" fill="none" stroke-width="1.7"/></g>
<circle cx="467" cy="934" r="5.9" fill="#fff" stroke="#45b04b" stroke-width="1.6"/>
<text x="477.20" y="934" font-size="13" fill="#3a3a3a" dominant-baseline="central" font-weight="normal" >菅生</text>
<text x="507.70" y="934" font-size="13.52" fill="#3a3a3a" dominant-baseline="central" font-weight="normal" textLength="19.50" lengthAdjust="spacingAndGlyphs" >SIC</text>
<circle cx="467" cy="955" r="5.9" fill="#fff"/>
<path d="M467 949.4 L472.7 958.6 H461.3 Z" fill="#45b04b"/>
<circle cx="467" cy="955" r="5.9" fill="none" stroke="#45b04b" stroke-width="1.6"/>
<text x="477.20" y="955" font-size="13" fill="#8a8a8a" dominant-baseline="central" font-weight="normal" >村田</text>
<text x="507.70" y="955" font-size="13.52" fill="#8a8a8a" dominant-baseline="central" font-weight="normal" textLength="21.45" lengthAdjust="spacingAndGlyphs" >JCT</text>
<circle cx="467" cy="983.8" r="5.9" fill="#fff" stroke="#45b04b" stroke-width="1.6"/>
<text x="477.20" y="983.8" font-size="13" fill="#3a3a3a" dominant-baseline="central" font-weight="normal" >村田</text>
<text x="507.70" y="983.8" font-size="13.52" fill="#3a3a3a" dominant-baseline="central" font-weight="normal" textLength="11.70" lengthAdjust="spacingAndGlyphs" >IC</text>
<circle cx="467" cy="1004" r="5.9" fill="#fff" stroke="#45b04b" stroke-width="1.6"/>
<text x="477.20" y="1004" font-size="13" fill="#3a3a3a" dominant-baseline="central" font-weight="normal" >白石</text>
<text x="507.70" y="1004" font-size="13.52" fill="#3a3a3a" dominant-baseline="central" font-weight="normal" textLength="11.70" lengthAdjust="spacingAndGlyphs" >IC</text>
<circle cx="467" cy="1024.2" r="5.9" fill="#fff" stroke="#45b04b" stroke-width="1.6"/>
<text x="477.20" y="1024.2" font-size="13" fill="#3a3a3a" dominant-baseline="central" font-weight="normal" >国見</text>
<text x="507.70" y="1024.2" font-size="13.52" fill="#3a3a3a" dominant-baseline="central" font-weight="normal" textLength="11.70" lengthAdjust="spacingAndGlyphs" >IC</text>
<circle cx="467" cy="1043.3" r="5.9" fill="#fff"/>
<path d="M467 1037.7 L472.7 1046.8999999999999 H461.3 Z" fill="#45b04b"/>
<circle cx="467" cy="1043.3" r="5.9" fill="none" stroke="#45b04b" stroke-width="1.6"/>
<text x="404.55" y="1043.3" font-size="13" fill="#3a3a3a" dominant-baseline="central" font-weight="normal" >桑折</text>
<text x="435.05" y="1043.3" font-size="13.52" fill="#3a3a3a" dominant-baseline="central" font-weight="normal" textLength="21.45" lengthAdjust="spacingAndGlyphs" >JCT</text>
<circle cx="467" cy="1063.4" r="5.9" fill="#fff" stroke="#45b04b" stroke-width="1.6"/>
<text x="477.20" y="1063.4" font-size="13" fill="#3a3a3a" dominant-baseline="central" font-weight="normal" >福島飯坂</text>
<text x="533.70" y="1063.4" font-size="13.52" fill="#3a3a3a" dominant-baseline="central" font-weight="normal" textLength="11.70" lengthAdjust="spacingAndGlyphs" >IC</text>
<circle cx="467" cy="1083.3" r="5.9" fill="#fff"/>
<path d="M467 1077.7 L472.7 1086.8999999999999 H461.3 Z" fill="#45b04b"/>
<circle cx="467" cy="1083.3" r="5.9" fill="none" stroke="#45b04b" stroke-width="1.6"/>
<text x="477.20" y="1083.3" font-size="13" fill="#3a3a3a" dominant-baseline="central" font-weight="normal" >福島</text>
<text x="507.70" y="1083.3" font-size="13.52" fill="#3a3a3a" dominant-baseline="central" font-weight="normal" textLength="21.45" lengthAdjust="spacingAndGlyphs" >JCT</text>
<circle cx="467" cy="1118.4" r="5.9" fill="#fff" stroke="#45b04b" stroke-width="1.6"/>
<text x="477.20" y="1118.4" font-size="13" fill="#3a3a3a" dominant-baseline="central" font-weight="normal" >福島西</text>
<text x="520.70" y="1118.4" font-size="13.52" fill="#3a3a3a" dominant-baseline="central" font-weight="normal" textLength="11.70" lengthAdjust="spacingAndGlyphs" >IC</text>
<circle cx="467" cy="1146.7" r="5.9" fill="#fff" stroke="#45b04b" stroke-width="1.6"/>
<text x="477.20" y="1146.7" font-size="13" fill="#3a3a3a" dominant-baseline="central" font-weight="normal" >福島松川</text>
<text x="533.70" y="1146.7" font-size="13.52" fill="#3a3a3a" dominant-baseline="central" font-weight="normal" textLength="19.50" lengthAdjust="spacingAndGlyphs" >SIC</text>
<circle cx="467" cy="1175" r="5.9" fill="#fff" stroke="#45b04b" stroke-width="1.6"/>
<text x="477.20" y="1175" font-size="13" fill="#3a3a3a" dominant-baseline="central" font-weight="normal" >二本松</text>
<text x="520.70" y="1175" font-size="13.52" fill="#3a3a3a" dominant-baseline="central" font-weight="normal" textLength="11.70" lengthAdjust="spacingAndGlyphs" >IC</text>
<text x="443" y="1119.4" font-size="14.5" fill="#1f9d49" text-anchor="middle" dominant-baseline="central">東</text>
<text x="443" y="1134.2" font-size="14.5" fill="#1f9d49" text-anchor="middle" dominant-baseline="central">北</text>
<text x="443" y="1149.0" font-size="14.5" fill="#1f9d49" text-anchor="middle" dominant-baseline="central">道</text>
<rect x="433" y="1164.3" width="22" height="15" rx="2.5" fill="#0f9a47"/>
<text x="444.0" y="1172.3" font-size="11" fill="#fff" text-anchor="middle" dominant-baseline="central" textLength="12" lengthAdjust="spacingAndGlyphs">E4</text>
<circle cx="467" cy="1203.7" r="5.9" fill="#fff" stroke="#45b04b" stroke-width="1.6"/>
<text x="414.30" y="1203.7" font-size="13" fill="#3a3a3a" dominant-baseline="central" font-weight="normal" >本宮</text>
<text x="444.80" y="1203.7" font-size="13.52" fill="#3a3a3a" dominant-baseline="central" font-weight="normal" textLength="11.70" lengthAdjust="spacingAndGlyphs" >IC</text>
<circle cx="467" cy="1244.5" r="5.9" fill="#fff"/>
<path d="M467 1238.9 L472.7 1248.1 H461.3 Z" fill="#45b04b"/>
<circle cx="467" cy="1244.5" r="5.9" fill="none" stroke="#45b04b" stroke-width="1.6"/>
<text x="405.03" y="1226.7" font-size="13" fill="#8a8a8a" dominant-baseline="central" font-weight="normal" >郡山</text>
<text x="435.53" y="1226.7" font-size="13.52" fill="#8a8a8a" dominant-baseline="central" font-weight="normal" textLength="21.45" lengthAdjust="spacingAndGlyphs" >JCT</text>
<circle cx="467" cy="1262" r="5.9" fill="#fff" stroke="#45b04b" stroke-width="1.6"/>
<text x="477.20" y="1262" font-size="13" fill="#3a3a3a" dominant-baseline="central" font-weight="normal" >郡山</text>
<text x="507.70" y="1262" font-size="13.52" fill="#3a3a3a" dominant-baseline="central" font-weight="normal" textLength="11.70" lengthAdjust="spacingAndGlyphs" >IC</text>
<circle cx="467" cy="1279" r="5.9" fill="#fff" stroke="#45b04b" stroke-width="1.6"/>
<text x="477.20" y="1279" font-size="13" fill="#3a3a3a" dominant-baseline="central" font-weight="normal" >郡山中央</text>
<text x="533.70" y="1279" font-size="13.52" fill="#3a3a3a" dominant-baseline="central" font-weight="normal" textLength="19.50" lengthAdjust="spacingAndGlyphs" >SIC</text>
<circle cx="467" cy="1295.6" r="5.9" fill="#fff" stroke="#45b04b" stroke-width="1.6"/>
<text x="477.20" y="1295.6" font-size="13" fill="#3a3a3a" dominant-baseline="central" font-weight="normal" >郡山南</text>
<text x="520.70" y="1295.6" font-size="13.52" fill="#3a3a3a" dominant-baseline="central" font-weight="normal" textLength="11.70" lengthAdjust="spacingAndGlyphs" >IC</text>
<circle cx="467" cy="1313.3" r="5.9" fill="#fff" stroke="#45b04b" stroke-width="1.6"/>
<text x="477.20" y="1313.3" font-size="13" fill="#3a3a3a" dominant-baseline="central" font-weight="normal" >須賀川</text>
<text x="520.70" y="1313.3" font-size="13.52" fill="#3a3a3a" dominant-baseline="central" font-weight="normal" textLength="11.70" lengthAdjust="spacingAndGlyphs" >IC</text>
<circle cx="467" cy="1330" r="5.9" fill="#fff" stroke="#45b04b" stroke-width="1.6"/>
<text x="477.20" y="1330" font-size="13" fill="#3a3a3a" dominant-baseline="central" font-weight="normal" >鏡石</text>
<text x="507.70" y="1330" font-size="13.52" fill="#3a3a3a" dominant-baseline="central" font-weight="normal" textLength="19.50" lengthAdjust="spacingAndGlyphs" >SIC</text>
<circle cx="467" cy="1347.6" r="5.9" fill="#fff" stroke="#45b04b" stroke-width="1.6"/>
<text x="477.20" y="1347.6" font-size="13" fill="#3a3a3a" dominant-baseline="central" font-weight="normal" >矢吹</text>
<text x="507.70" y="1347.6" font-size="13.52" fill="#3a3a3a" dominant-baseline="central" font-weight="normal" textLength="11.70" lengthAdjust="spacingAndGlyphs" >IC</text>
<circle cx="467" cy="1364.6" r="5.9" fill="#fff" stroke="#45b04b" stroke-width="1.6"/>
<text x="477.20" y="1364.6" font-size="13" fill="#3a3a3a" dominant-baseline="central" font-weight="normal" >白河中央</text>
<text x="533.70" y="1364.6" font-size="13.52" fill="#3a3a3a" dominant-baseline="central" font-weight="normal" textLength="19.50" lengthAdjust="spacingAndGlyphs" >SIC</text>
<circle cx="467" cy="1382.3" r="5.9" fill="#fff" stroke="#45b04b" stroke-width="1.6"/>
<text x="477.20" y="1382.3" font-size="13" fill="#3a3a3a" dominant-baseline="central" font-weight="normal" >白河</text>
<text x="507.70" y="1382.3" font-size="13.52" fill="#3a3a3a" dominant-baseline="central" font-weight="normal" textLength="11.70" lengthAdjust="spacingAndGlyphs" >IC</text>
<circle cx="201.5" cy="1244.5" r="5.9" fill="#fff" stroke="#45b04b" stroke-width="1.6"/>
<text x="201.5" y="1264.0" font-size="13" fill="#3a3a3a" text-anchor="middle" dominant-baseline="central">西</text>
<text x="201.5" y="1276.0" font-size="13" fill="#3a3a3a" text-anchor="middle" dominant-baseline="central">会</text>
<text x="201.5" y="1288.0" font-size="13" fill="#3a3a3a" text-anchor="middle" dominant-baseline="central">津</text>
<text x="201.5" y="1300.0" font-size="14.3" fill="#3a3a3a" text-anchor="middle" dominant-baseline="central" textLength="9.72" lengthAdjust="spacingAndGlyphs">IC</text>
<circle cx="235.5" cy="1244.5" r="5.9" fill="#fff" stroke="#45b04b" stroke-width="1.6"/>
<text x="235.5" y="1264.0" font-size="13" fill="#3a3a3a" text-anchor="middle" dominant-baseline="central">会</text>
<text x="235.5" y="1276.0" font-size="13" fill="#3a3a3a" text-anchor="middle" dominant-baseline="central">津</text>
<text x="235.5" y="1288.0" font-size="13" fill="#3a3a3a" text-anchor="middle" dominant-baseline="central">坂</text>
<text x="235.5" y="1300.0" font-size="13" fill="#3a3a3a" text-anchor="middle" dominant-baseline="central">下</text>
<text x="235.5" y="1312.0" font-size="14.3" fill="#3a3a3a" text-anchor="middle" dominant-baseline="central" textLength="9.72" lengthAdjust="spacingAndGlyphs">IC</text>
<circle cx="270.2" cy="1244.5" r="5.9" fill="#fff" stroke="#45b04b" stroke-width="1.6"/>
<text x="270.2" y="1264.0" font-size="13" fill="#3a3a3a" text-anchor="middle" dominant-baseline="central">新</text>
<text x="270.2" y="1276.0" font-size="13" fill="#3a3a3a" text-anchor="middle" dominant-baseline="central">鶴</text>
<text x="270.2" y="1288.0" font-size="14.3" fill="#3a3a3a" text-anchor="middle" dominant-baseline="central" textLength="16.21" lengthAdjust="spacingAndGlyphs">SIC</text>
<circle cx="304.5" cy="1244.5" r="5.9" fill="#fff" stroke="#45b04b" stroke-width="1.6"/>
<text x="304.5" y="1264.0" font-size="13" fill="#3a3a3a" text-anchor="middle" dominant-baseline="central">会</text>
<text x="304.5" y="1276.0" font-size="13" fill="#3a3a3a" text-anchor="middle" dominant-baseline="central">津</text>
<text x="304.5" y="1288.0" font-size="13" fill="#3a3a3a" text-anchor="middle" dominant-baseline="central">若</text>
<text x="304.5" y="1300.0" font-size="13" fill="#3a3a3a" text-anchor="middle" dominant-baseline="central">松</text>
<text x="304.5" y="1312.0" font-size="14.3" fill="#3a3a3a" text-anchor="middle" dominant-baseline="central" textLength="9.72" lengthAdjust="spacingAndGlyphs">IC</text>
<circle cx="339.2" cy="1244.5" r="5.9" fill="#fff" stroke="#45b04b" stroke-width="1.6"/>
<text x="339.2" y="1264.0" font-size="13" fill="#3a3a3a" text-anchor="middle" dominant-baseline="central">磐</text>
<text x="339.2" y="1276.0" font-size="13" fill="#3a3a3a" text-anchor="middle" dominant-baseline="central">梯</text>
<text x="339.2" y="1288.0" font-size="13" fill="#3a3a3a" text-anchor="middle" dominant-baseline="central">河</text>
<text x="339.2" y="1300.0" font-size="13" fill="#3a3a3a" text-anchor="middle" dominant-baseline="central">東</text>
<text x="339.2" y="1312.0" font-size="14.3" fill="#3a3a3a" text-anchor="middle" dominant-baseline="central" textLength="9.72" lengthAdjust="spacingAndGlyphs">IC</text>
<circle cx="374" cy="1244.5" r="5.9" fill="#fff" stroke="#45b04b" stroke-width="1.6"/>
<text x="374" y="1264.0" font-size="13" fill="#3a3a3a" text-anchor="middle" dominant-baseline="central">猪</text>
<text x="374" y="1276.0" font-size="13" fill="#3a3a3a" text-anchor="middle" dominant-baseline="central">苗</text>
<text x="374" y="1288.0" font-size="13" fill="#3a3a3a" text-anchor="middle" dominant-baseline="central">代</text>
<text x="374" y="1300.0" font-size="13" fill="#3a3a3a" text-anchor="middle" dominant-baseline="central">磐</text>
<text x="374" y="1312.0" font-size="13" fill="#3a3a3a" text-anchor="middle" dominant-baseline="central">梯</text>
<text x="374" y="1324.0" font-size="13" fill="#3a3a3a" text-anchor="middle" dominant-baseline="central">高</text>
<text x="374" y="1336.0" font-size="13" fill="#3a3a3a" text-anchor="middle" dominant-baseline="central">原</text>
<text x="374" y="1348.0" font-size="14.3" fill="#3a3a3a" text-anchor="middle" dominant-baseline="central" textLength="9.72" lengthAdjust="spacingAndGlyphs">IC</text>
<circle cx="408.5" cy="1244.5" r="5.9" fill="#fff" stroke="#45b04b" stroke-width="1.6"/>
<text x="408.5" y="1264.0" font-size="13" fill="#3a3a3a" text-anchor="middle" dominant-baseline="central">磐</text>
<text x="408.5" y="1276.0" font-size="13" fill="#3a3a3a" text-anchor="middle" dominant-baseline="central">梯</text>
<text x="408.5" y="1288.0" font-size="13" fill="#3a3a3a" text-anchor="middle" dominant-baseline="central">熱</text>
<text x="408.5" y="1300.0" font-size="13" fill="#3a3a3a" text-anchor="middle" dominant-baseline="central">海</text>
<text x="408.5" y="1312.0" font-size="14.3" fill="#3a3a3a" text-anchor="middle" dominant-baseline="central" textLength="9.72" lengthAdjust="spacingAndGlyphs">IC</text>
<rect x="241" y="1213.5" width="28" height="15" rx="2.5" fill="#0f9a47"/>
<text x="255.0" y="1221.5" font-size="11" fill="#fff" text-anchor="middle" dominant-baseline="central" textLength="18" lengthAdjust="spacingAndGlyphs">E49</text>
<text x="275" y="1220.5" font-size="14.5" fill="#1f9d49" text-anchor="start" dominant-baseline="central" font-weight="normal" >磐越道</text>
<circle cx="507.2" cy="1244.5" r="5.9" fill="#fff" stroke="#45b04b" stroke-width="1.6"/>
<circle cx="547.9" cy="1244.5" r="5.9" fill="#fff" stroke="#45b04b" stroke-width="1.6"/>
<circle cx="587.5" cy="1244.5" r="5.9" fill="#fff" stroke="#45b04b" stroke-width="1.6"/>
<circle cx="628.2" cy="1244.5" r="5.9" fill="#fff" stroke="#45b04b" stroke-width="1.6"/>
<circle cx="668.8" cy="1244.5" r="5.9" fill="#fff" stroke="#45b04b" stroke-width="1.6"/>
<text x="513" y="1206.0" font-size="13" fill="#3a3a3a" text-anchor="middle" dominant-baseline="central">郡</text>
<text x="513" y="1218.0" font-size="13" fill="#3a3a3a" text-anchor="middle" dominant-baseline="central">山</text>
<text x="497.5" y="1216.0" font-size="13" fill="#3a3a3a" text-anchor="middle" dominant-baseline="central">東</text>
<text x="497.5" y="1228.0" font-size="14.3" fill="#3a3a3a" text-anchor="middle" dominant-baseline="central" textLength="9.72" lengthAdjust="spacingAndGlyphs">IC</text>
<text x="540" y="1204.0" font-size="13" fill="#3a3a3a" text-anchor="middle" dominant-baseline="central">三</text>
<text x="540" y="1216.0" font-size="13" fill="#3a3a3a" text-anchor="middle" dominant-baseline="central">春</text>
<text x="540" y="1228.0" font-size="14.3" fill="#3a3a3a" text-anchor="middle" dominant-baseline="central" textLength="9.72" lengthAdjust="spacingAndGlyphs">IC</text>
<text x="555.5" y="1206.0" font-size="13" fill="#3a3a3a" text-anchor="middle" dominant-baseline="central">船</text>
<text x="555.5" y="1218.0" font-size="13" fill="#3a3a3a" text-anchor="middle" dominant-baseline="central">引</text>
<text x="587.5" y="1204.0" font-size="13" fill="#3a3a3a" text-anchor="middle" dominant-baseline="central">田</text>
<text x="587.5" y="1216.0" font-size="13" fill="#3a3a3a" text-anchor="middle" dominant-baseline="central">村</text>
<text x="587.5" y="1228.0" font-size="14.3" fill="#3a3a3a" text-anchor="middle" dominant-baseline="central" textLength="16.21" lengthAdjust="spacingAndGlyphs">SIC</text>
<text x="628.2" y="1204.0" font-size="13" fill="#3a3a3a" text-anchor="middle" dominant-baseline="central">小</text>
<text x="628.2" y="1216.0" font-size="13" fill="#3a3a3a" text-anchor="middle" dominant-baseline="central">野</text>
<text x="628.2" y="1228.0" font-size="14.3" fill="#3a3a3a" text-anchor="middle" dominant-baseline="central" textLength="9.72" lengthAdjust="spacingAndGlyphs">IC</text>
<text x="668.8" y="1168.0" font-size="13" fill="#3a3a3a" text-anchor="middle" dominant-baseline="central">い</text>
<text x="668.8" y="1180.0" font-size="13" fill="#3a3a3a" text-anchor="middle" dominant-baseline="central">わ</text>
<text x="668.8" y="1192.0" font-size="13" fill="#3a3a3a" text-anchor="middle" dominant-baseline="central">き</text>
<text x="668.8" y="1204.0" font-size="13" fill="#3a3a3a" text-anchor="middle" dominant-baseline="central">三</text>
<text x="668.8" y="1216.0" font-size="13" fill="#3a3a3a" text-anchor="middle" dominant-baseline="central">和</text>
<text x="668.8" y="1228.0" font-size="14.3" fill="#3a3a3a" text-anchor="middle" dominant-baseline="central" textLength="9.72" lengthAdjust="spacingAndGlyphs">IC</text>
<path d="M2 61 V979 H163.9 V1411 H846 V59 H254" fill="none" stroke="#0f918f" stroke-width="4"/>
<path d="M0 57 V20 Q0 16 4 16 H250 Q254 16 254 20 V61 H0 Z" fill="#0f918f"/>
<text x="21" y="37" font-size="24" fill="#fff" font-weight="bold" dominant-baseline="central">東北<tspan dx="3">6</tspan><tspan dx="3">県周遊コース</tspan></text>
<path d="M171 1199.6 H395.5 V627 H842 V1403 H171 Z" fill="none" stroke="#dc1f50" stroke-width="4"/>
<path d="M617.5 1405 V1364 Q617.5 1360 621.5 1360 H844 V1405 Z" fill="#dc1f50"/>
<text x="733" y="1383.5" font-size="21.5" fill="#fff" text-anchor="middle" dominant-baseline="central" font-weight="bold" textLength="198" lengthAdjust="spacingAndGlyphs">福島宮城周遊コース</text>
</svg>
</body></html>
